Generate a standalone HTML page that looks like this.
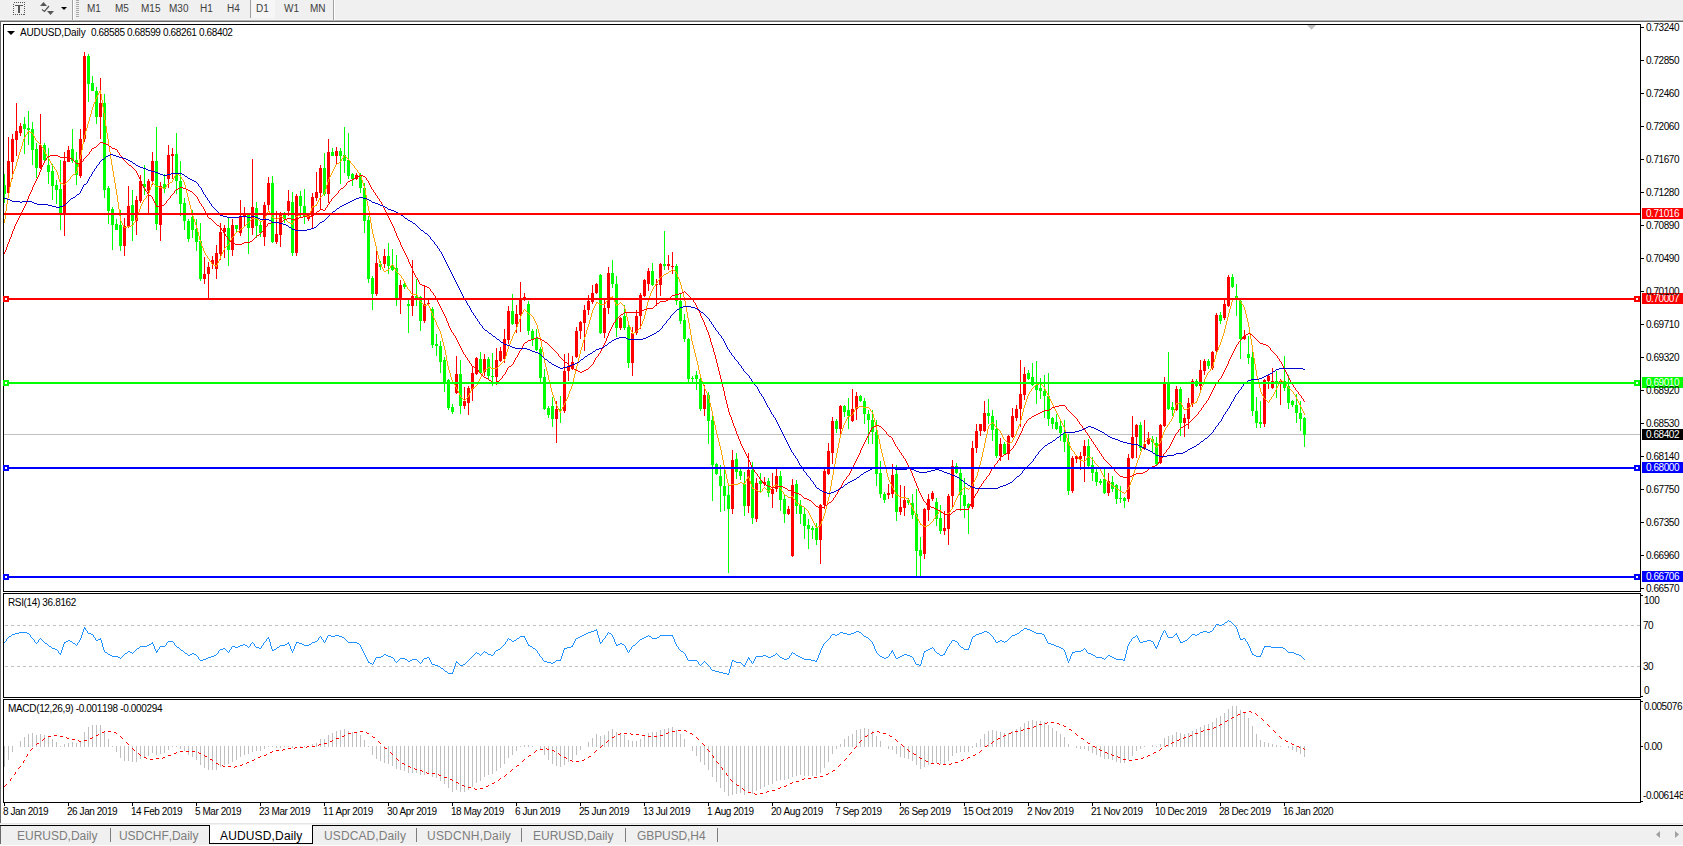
<!DOCTYPE html><html><head><meta charset="utf-8"><title>AUDUSD,Daily</title><style>
html,body{margin:0;padding:0;background:#fff;}
body{width:1683px;height:846px;position:relative;overflow:hidden;font-family:"Liberation Sans", sans-serif;font-size:11px;color:#000;}
.a{position:absolute;}
.t{position:absolute;white-space:nowrap;line-height:11px;height:11px;font-size:10px;font-kerning:none;}
.lb{position:absolute;left:1642px;width:41px;height:11px;color:#fff;}
.lb span{position:absolute;left:4px;top:0;line-height:11px;font-size:10px;letter-spacing:-0.45px;white-space:nowrap;font-kerning:none;}
.tab{position:absolute;top:829px;font-size:12px;line-height:14px;letter-spacing:0.05px;color:#7d7d7d;white-space:nowrap;font-kerning:none;}
.tf{position:absolute;top:3px;font-size:10px;line-height:11px;color:#404040;white-space:nowrap;font-kerning:none;}
svg{position:absolute;left:0;top:0;}
</style></head><body>
<div class="a" style="left:0;top:0;width:1683px;height:20px;background:#f0f0f0"></div>
<div class="a" style="left:0;top:19px;width:1683px;height:1px;background:#f6f6f6"></div>
<div class="a" style="left:0;top:20px;width:1683px;height:1px;background:#b4b4b4"></div>
<div class="a" style="left:0;top:21px;width:1683px;height:1px;background:#696969"></div>
<div class="a" style="left:0;top:21px;width:1px;height:802px;background:#696969"></div>
<svg width="1683" height="846" viewBox="0 0 1683 846" shape-rendering="crispEdges">
<rect x="13.5" y="2.5" width="11" height="12" fill="none" stroke="#555" stroke-width="1" stroke-dasharray="1,1"/>
<rect x="15" y="5" width="8" height="1" fill="#555"/><rect x="18" y="5" width="2" height="8" fill="#555"/>
<g shape-rendering="geometricPrecision" fill="#555"><path d="M40 6 L43.5 2 L47 6 Z"/><path d="M47 11 L50.5 15 L54 11 Z"/><path d="M42 9.5 L44.5 11.5 L49 6" fill="none" stroke="#555" stroke-width="1.2"/></g>
<path d="M61 7 L67 7 L64 10 Z" fill="#000" shape-rendering="geometricPrecision"/>
<rect x="72" y="0" width="1" height="20" fill="#a0a0a0"/><rect x="73" y="0" width="1" height="20" fill="#fff"/>
<rect x="76" y="0" width="3" height="1" fill="#a8a8a8"/>
<rect x="76" y="2" width="3" height="1" fill="#a8a8a8"/>
<rect x="76" y="4" width="3" height="1" fill="#a8a8a8"/>
<rect x="76" y="6" width="3" height="1" fill="#a8a8a8"/>
<rect x="76" y="8" width="3" height="1" fill="#a8a8a8"/>
<rect x="76" y="10" width="3" height="1" fill="#a8a8a8"/>
<rect x="76" y="12" width="3" height="1" fill="#a8a8a8"/>
<rect x="76" y="14" width="3" height="1" fill="#a8a8a8"/>
<rect x="76" y="16" width="3" height="1" fill="#a8a8a8"/>
<rect x="250" y="0" width="1" height="18" fill="#a0a0a0"/><rect x="251" y="0" width="24" height="18" fill="#f6f6f6"/>
<rect x="333" y="0" width="1" height="20" fill="#a0a0a0"/><rect x="334" y="0" width="1" height="20" fill="#fff"/>
<line x1="5" y1="625.5" x2="1640" y2="625.5" stroke="#c0c0c0" stroke-width="1" stroke-dasharray="3,3"/>
<line x1="5" y1="666.5" x2="1640" y2="666.5" stroke="#c0c0c0" stroke-width="1" stroke-dasharray="3,3"/>
<rect x="4" y="434" width="1636" height="1" fill="#c0c0c0"/>
<path fill="#ff0000" d="M8 137h1v56h-1zM7 161h3v32h-3zM12 134h1v45h-1zM11 139h3v23h-3zM16 103h1v53h-1zM15 131h3v9h-3zM20 123h1v13h-1zM19 126h3v7h-3zM40 114h1v55h-1zM39 145h3v23h-3zM64 152h1v84h-1zM63 161h3v53h-3zM68 146h1v16h-1zM67 150h3v12h-3zM80 129h1v49h-1zM79 139h3v37h-3zM84 52h1v90h-1zM83 56h3v83h-3zM100 78h1v61h-1zM99 103h3v14h-3zM124 218h1v38h-1zM123 226h3v20h-3zM128 186h1v42h-1zM127 206h3v20h-3zM136 196h1v39h-1zM135 200h3v21h-3zM140 175h1v28h-1zM139 181h3v20h-3zM148 179h1v34h-1zM147 181h3v10h-3zM152 152h1v33h-1zM151 161h3v20h-3zM160 182h1v59h-1zM159 186h3v39h-3zM168 145h1v43h-1zM167 155h3v24h-3zM172 148h1v31h-1zM171 154h3v2h-3zM204 257h1v27h-1zM203 274h3v5h-3zM208 262h1v36h-1zM207 267h3v7h-3zM212 256h1v13h-1zM211 260h3v4h-3zM216 245h1v34h-1zM215 253h3v16h-3zM220 223h1v37h-1zM219 232h3v22h-3zM224 225h1v33h-1zM223 228h3v4h-3zM232 219h1v37h-1zM231 225h3v25h-3zM240 200h1v36h-1zM239 217h3v16h-3zM244 207h1v19h-1zM243 213h3v4h-3zM252 159h1v76h-1zM251 207h3v21h-3zM264 202h1v44h-1zM263 205h3v32h-3zM268 177h1v33h-1zM267 183h3v22h-3zM276 211h1v33h-1zM275 234h3v8h-3zM280 212h1v35h-1zM279 215h3v20h-3zM288 190h1v26h-1zM287 201h3v10h-3zM296 194h1v62h-1zM295 196h3v57h-3zM308 213h1v8h-1zM307 215h3v4h-3zM312 193h1v35h-1zM311 197h3v19h-3zM316 172h1v29h-1zM315 192h3v6h-3zM320 165h1v44h-1zM319 168h3v25h-3zM328 139h1v64h-1zM327 152h3v42h-3zM336 147h1v17h-1zM335 151h3v5h-3zM356 173h1v7h-1zM355 175h3v4h-3zM376 251h1v45h-1zM375 263h3v31h-3zM384 249h1v19h-1zM383 256h3v8h-3zM400 280h1v34h-1zM399 285h3v14h-3zM412 260h1v56h-1zM411 296h3v10h-3zM424 285h1v38h-1zM423 304h3v17h-3zM428 299h1v7h-1zM427 303h3v1h-3zM456 356h1v38h-1zM455 374h3v19h-3zM464 387h1v22h-1zM463 401h3v5h-3zM468 386h1v29h-1zM467 388h3v15h-3zM472 366h1v35h-1zM471 373h3v16h-3zM476 357h1v18h-1zM475 358h3v16h-3zM484 354h1v22h-1zM483 359h3v13h-3zM496 348h1v37h-1zM495 360h3v17h-3zM500 347h1v15h-1zM499 351h3v10h-3zM504 329h1v34h-1zM503 339h3v20h-3zM508 306h1v38h-1zM507 311h3v29h-3zM516 305h1v28h-1zM515 314h3v10h-3zM520 282h1v50h-1zM519 300h3v15h-3zM524 293h1v8h-1zM523 297h3v3h-3zM556 401h1v42h-1zM555 409h3v10h-3zM564 354h1v59h-1zM563 371h3v40h-3zM568 353h1v28h-1zM567 367h3v4h-3zM572 356h1v14h-1zM571 362h3v7h-3zM576 327h1v31h-1zM575 331h3v26h-3zM580 321h1v18h-1zM579 322h3v9h-3zM584 305h1v46h-1zM583 310h3v13h-3zM588 295h1v20h-1zM587 301h3v9h-3zM592 285h1v19h-1zM591 293h3v9h-3zM596 283h1v11h-1zM595 284h3v9h-3zM604 299h1v39h-1zM603 308h3v25h-3zM608 267h1v47h-1zM607 273h3v35h-3zM620 317h1v13h-1zM619 318h3v10h-3zM632 327h1v49h-1zM631 333h3v30h-3zM636 310h1v25h-1zM635 316h3v17h-3zM640 293h1v36h-1zM639 295h3v21h-3zM644 279h1v18h-1zM643 280h3v16h-3zM648 268h1v23h-1zM647 271h3v13h-3zM656 279h1v27h-1zM655 284h3v1h-3zM660 263h1v33h-1zM659 264h3v21h-3zM668 255h1v15h-1zM667 264h3v2h-3zM672 252h1v22h-1zM671 266h3v1h-3zM704 385h1v31h-1zM703 395h3v14h-3zM732 450h1v64h-1zM731 460h3v49h-3zM748 453h1v60h-1zM747 470h3v36h-3zM756 478h1v44h-1zM755 483h3v36h-3zM764 477h1v9h-1zM763 482h3v2h-3zM772 473h1v35h-1zM771 489h3v5h-3zM776 469h1v23h-1zM775 476h3v13h-3zM788 506h1v9h-1zM787 509h3v5h-3zM792 479h1v78h-1zM791 485h3v71h-3zM820 504h1v60h-1zM819 505h3v35h-3zM824 468h1v41h-1zM823 471h3v34h-3zM828 443h1v32h-1zM827 451h3v23h-3zM832 417h1v47h-1zM831 421h3v32h-3zM840 405h1v29h-1zM839 406h3v23h-3zM852 389h1v33h-1zM851 409h3v12h-3zM856 392h1v28h-1zM855 396h3v13h-3zM888 484h1v15h-1zM887 493h3v2h-3zM892 464h1v34h-1zM891 475h3v19h-3zM900 485h1v30h-1zM899 507h3v5h-3zM904 486h1v30h-1zM903 500h3v8h-3zM924 508h1v51h-1zM923 509h3v45h-3zM928 494h1v27h-1zM927 499h3v11h-3zM932 491h1v10h-1zM931 493h3v6h-3zM944 511h1v24h-1zM943 528h3v3h-3zM948 494h1v51h-1zM947 496h3v33h-3zM952 460h1v48h-1zM951 466h3v30h-3zM972 441h1v68h-1zM971 448h3v59h-3zM976 424h1v29h-1zM975 431h3v17h-3zM980 424h1v12h-1zM979 424h3v7h-3zM984 401h1v31h-1zM983 413h3v18h-3zM1000 438h1v23h-1zM999 444h3v12h-3zM1008 435h1v25h-1zM1007 436h3v18h-3zM1012 408h1v30h-1zM1011 416h3v21h-3zM1016 405h1v16h-1zM1015 409h3v9h-3zM1020 360h1v67h-1zM1019 394h3v15h-3zM1024 367h1v33h-1zM1023 374h3v21h-3zM1072 456h1v37h-1zM1071 458h3v33h-3zM1076 455h1v8h-1zM1075 456h3v3h-3zM1080 452h1v18h-1zM1079 456h3v3h-3zM1084 440h1v42h-1zM1083 446h3v10h-3zM1108 473h1v23h-1zM1107 481h3v12h-3zM1128 454h1v48h-1zM1127 458h3v41h-3zM1132 416h1v43h-1zM1131 437h3v21h-3zM1136 424h1v34h-1zM1135 425h3v12h-3zM1144 420h1v30h-1zM1143 444h3v5h-3zM1148 432h1v13h-1zM1147 438h3v6h-3zM1160 424h1v40h-1zM1159 425h3v38h-3zM1164 377h1v50h-1zM1163 384h3v42h-3zM1176 386h1v25h-1zM1175 389h3v21h-3zM1184 414h1v23h-1zM1183 418h3v5h-3zM1188 398h1v31h-1zM1187 403h3v16h-3zM1192 379h1v28h-1zM1191 381h3v23h-3zM1200 360h1v31h-1zM1199 370h3v16h-3zM1204 359h1v16h-1zM1203 361h3v10h-3zM1212 351h1v19h-1zM1211 352h3v16h-3zM1216 313h1v39h-1zM1215 315h3v36h-3zM1224 299h1v21h-1zM1223 304h3v14h-3zM1228 275h1v32h-1zM1227 277h3v29h-3zM1244 330h1v10h-1zM1243 336h3v3h-3zM1264 379h1v48h-1zM1263 380h3v44h-3zM1268 374h1v15h-1zM1267 376h3v5h-3zM1272 368h1v21h-1zM1271 381h3v7h-3zM1280 379h1v26h-1zM1279 381h3v3h-3z"/>
<path fill="#00ff00" d="M4 174h1v29h-1zM3 185h3v9h-3zM24 117h1v37h-1zM23 124h3v5h-3zM28 111h1v34h-1zM27 128h3v2h-3zM32 122h1v43h-1zM31 129h3v21h-3zM36 143h1v35h-1zM35 149h3v19h-3zM44 143h1v19h-1zM43 145h3v15h-3zM48 148h1v36h-1zM47 165h3v7h-3zM52 164h1v36h-1zM51 171h3v15h-3zM56 180h1v24h-1zM55 185h3v5h-3zM60 160h1v70h-1zM59 189h3v25h-3zM72 129h1v34h-1zM71 149h3v12h-3zM76 152h1v33h-1zM75 160h3v15h-3zM88 54h1v48h-1zM87 56h3v28h-3zM92 76h1v15h-1zM91 83h3v8h-3zM96 87h1v37h-1zM95 91h3v26h-3zM104 94h1v104h-1zM103 103h3v87h-3zM108 186h1v38h-1zM107 188h3v23h-3zM112 207h1v43h-1zM111 209h3v16h-3zM116 219h1v11h-1zM115 224h3v6h-3zM120 210h1v41h-1zM119 225h3v21h-3zM132 190h1v51h-1zM131 205h3v16h-3zM144 165h1v30h-1zM143 184h3v3h-3zM156 127h1v103h-1zM155 161h3v63h-3zM164 174h1v19h-1zM163 184h3v5h-3zM176 133h1v61h-1zM175 154h3v27h-3zM180 161h1v55h-1zM179 181h3v23h-3zM184 198h1v32h-1zM183 203h3v18h-3zM188 219h1v23h-1zM187 221h3v18h-3zM192 210h1v28h-1zM191 217h3v13h-3zM196 219h1v32h-1zM195 229h3v13h-3zM200 223h1v58h-1zM199 241h3v38h-3zM228 217h1v49h-1zM227 228h3v22h-3zM236 225h1v7h-1zM235 225h3v4h-3zM248 213h1v41h-1zM247 214h3v14h-3zM256 202h1v36h-1zM255 208h3v18h-3zM260 221h1v16h-1zM259 225h3v8h-3zM272 176h1v67h-1zM271 183h3v59h-3zM284 212h1v11h-1zM283 215h3v4h-3zM292 192h1v64h-1zM291 202h3v51h-3zM300 191h1v26h-1zM299 196h3v10h-3zM304 189h1v35h-1zM303 206h3v10h-3zM324 153h1v43h-1zM323 168h3v26h-3zM332 148h1v8h-1zM331 152h3v4h-3zM340 148h1v36h-1zM339 151h3v5h-3zM344 127h1v46h-1zM343 155h3v6h-3zM348 133h1v46h-1zM347 160h3v16h-3zM352 173h1v13h-1zM351 174h3v5h-3zM360 173h1v20h-1zM359 175h3v13h-3zM364 183h1v50h-1zM363 188h3v33h-3zM368 216h1v67h-1zM367 220h3v59h-3zM372 276h1v34h-1zM371 278h3v16h-3zM380 261h1v9h-1zM379 264h3v3h-3zM388 243h1v31h-1zM387 256h3v10h-3zM392 249h1v22h-1zM391 266h3v4h-3zM396 255h1v51h-1zM395 268h3v31h-3zM404 282h1v7h-1zM403 284h3v3h-3zM408 300h1v33h-1zM407 304h3v2h-3zM416 279h1v27h-1zM415 296h3v3h-3zM420 296h1v35h-1zM419 297h3v24h-3zM432 307h1v41h-1zM431 309h3v36h-3zM436 334h1v22h-1zM435 344h3v2h-3zM440 341h1v32h-1zM439 346h3v16h-3zM444 357h1v35h-1zM443 360h3v24h-3zM448 379h1v31h-1zM447 380h3v28h-3zM452 404h1v10h-1zM451 407h3v5h-3zM460 360h1v54h-1zM459 374h3v32h-3zM480 352h1v22h-1zM479 359h3v14h-3zM488 357h1v23h-1zM487 359h3v17h-3zM492 353h1v33h-1zM491 376h3v1h-3zM512 294h1v31h-1zM511 311h3v13h-3zM528 301h1v34h-1zM527 304h3v27h-3zM532 329h1v17h-1zM531 331h3v8h-3zM536 329h1v22h-1zM535 338h3v12h-3zM540 347h1v35h-1zM539 349h3v29h-3zM544 369h1v41h-1zM543 377h3v32h-3zM548 406h1v12h-1zM547 408h3v7h-3zM552 397h1v30h-1zM551 406h3v13h-3zM560 396h1v27h-1zM559 409h3v2h-3zM600 274h1v60h-1zM599 275h3v58h-3zM612 260h1v28h-1zM611 273h3v11h-3zM616 276h1v61h-1zM615 284h3v44h-3zM624 305h1v25h-1zM623 316h3v12h-3zM628 321h1v47h-1zM627 327h3v36h-3zM652 263h1v23h-1zM651 271h3v14h-3zM664 231h1v39h-1zM663 264h3v2h-3zM676 264h1v41h-1zM675 266h3v35h-3zM680 294h1v30h-1zM679 301h3v20h-3zM684 314h1v28h-1zM683 320h3v19h-3zM688 338h1v44h-1zM687 339h3v40h-3zM692 376h1v6h-1zM691 378h3v1h-3zM696 371h1v19h-1zM695 375h3v4h-3zM700 378h1v33h-1zM699 379h3v30h-3zM708 392h1v52h-1zM707 395h3v26h-3zM712 416h1v85h-1zM711 420h3v45h-3zM716 463h1v12h-1zM715 464h3v10h-3zM720 465h1v47h-1zM719 476h3v10h-3zM724 469h1v42h-1zM723 486h3v10h-3zM728 486h1v87h-1zM727 495h3v14h-3zM736 453h1v26h-1zM735 459h3v13h-3zM740 469h1v11h-1zM739 471h3v5h-3zM744 472h1v44h-1zM743 484h3v22h-3zM752 462h1v62h-1zM751 470h3v48h-3zM760 473h1v20h-1zM759 481h3v3h-3zM768 478h1v19h-1zM767 481h3v12h-3zM780 471h1v40h-1zM779 476h3v24h-3zM784 495h1v28h-1zM783 499h3v15h-3zM796 480h1v34h-1zM795 484h3v22h-3zM800 500h1v24h-1zM799 505h3v9h-3zM804 507h1v32h-1zM803 514h3v12h-3zM808 519h1v30h-1zM807 525h3v4h-3zM812 526h1v13h-1zM811 528h3v2h-3zM816 523h1v22h-1zM815 528h3v12h-3zM836 419h1v14h-1zM835 421h3v8h-3zM844 405h1v12h-1zM843 406h3v6h-3zM848 398h1v31h-1zM847 410h3v6h-3zM860 395h1v7h-1zM859 396h3v5h-3zM864 398h1v26h-1zM863 401h3v13h-3zM868 410h1v34h-1zM867 414h3v6h-3zM872 410h1v34h-1zM871 420h3v12h-3zM876 420h1v66h-1zM875 432h3v42h-3zM880 461h1v37h-1zM879 473h3v21h-3zM884 492h1v11h-1zM883 494h3v6h-3zM896 465h1v56h-1zM895 474h3v38h-3zM908 498h1v7h-1zM907 500h3v3h-3zM912 494h1v25h-1zM911 503h3v12h-3zM916 489h1v87h-1zM915 514h3v37h-3zM920 537h1v39h-1zM919 550h3v6h-3zM936 498h1v28h-1zM935 502h3v17h-3zM940 505h1v29h-1zM939 518h3v13h-3zM956 463h1v11h-1zM955 466h3v7h-3zM960 469h1v42h-1zM959 473h3v22h-3zM964 478h1v40h-1zM963 495h3v11h-3zM968 503h1v31h-1zM967 504h3v4h-3zM988 399h1v25h-1zM987 413h3v3h-3zM992 410h1v31h-1zM991 416h3v14h-3zM996 420h1v38h-1zM995 429h3v27h-3zM1004 442h1v13h-1zM1003 444h3v10h-3zM1028 370h1v10h-1zM1027 373h3v6h-3zM1032 363h1v23h-1zM1031 377h3v8h-3zM1036 361h1v43h-1zM1035 385h3v5h-3zM1040 378h1v21h-1zM1039 388h3v3h-3zM1044 375h1v43h-1zM1043 391h3v5h-3zM1048 373h1v53h-1zM1047 396h3v23h-3zM1052 417h1v12h-1zM1051 418h3v6h-3zM1056 414h1v16h-1zM1055 422h3v7h-3zM1060 421h1v20h-1zM1059 426h3v7h-3zM1064 420h1v32h-1zM1063 433h3v9h-3zM1068 434h1v61h-1zM1067 442h3v49h-3zM1088 439h1v28h-1zM1087 446h3v20h-3zM1092 457h1v24h-1zM1091 465h3v8h-3zM1096 467h1v19h-1zM1095 472h3v10h-3zM1100 479h1v6h-1zM1099 481h3v2h-3zM1104 469h1v25h-1zM1103 479h3v14h-3zM1112 476h1v16h-1zM1111 482h3v7h-3zM1116 484h1v20h-1zM1115 485h3v14h-3zM1120 486h1v17h-1zM1119 498h3v1h-3zM1124 497h1v11h-1zM1123 498h3v3h-3zM1140 422h1v29h-1zM1139 425h3v23h-3zM1152 436h1v16h-1zM1151 439h3v3h-3zM1156 437h1v28h-1zM1155 443h3v21h-3zM1168 352h1v58h-1zM1167 384h3v25h-3zM1172 402h1v14h-1zM1171 407h3v3h-3zM1180 387h1v49h-1zM1179 389h3v34h-3zM1196 379h1v8h-1zM1195 381h3v5h-3zM1208 359h1v10h-1zM1207 361h3v5h-3zM1220 312h1v12h-1zM1219 315h3v6h-3zM1232 274h1v14h-1zM1231 277h3v10h-3zM1236 284h1v32h-1zM1235 296h3v3h-3zM1240 300h1v59h-1zM1239 301h3v38h-3zM1248 336h1v28h-1zM1247 354h3v4h-3zM1252 352h1v64h-1zM1251 357h3v54h-3zM1256 397h1v31h-1zM1255 411h3v12h-3zM1260 401h1v27h-1zM1259 422h3v2h-3zM1276 371h1v27h-1zM1275 381h3v3h-3zM1284 356h1v35h-1zM1283 381h3v7h-3zM1288 375h1v34h-1zM1287 386h3v17h-3zM1292 400h1v7h-1zM1291 401h3v4h-3zM1296 394h1v29h-1zM1295 405h3v8h-3zM1300 401h1v30h-1zM1299 413h3v6h-3zM1304 417h1v30h-1zM1303 418h3v17h-3z"/>
<path d="M28 131h2M30 132h2M32 133h1M26 134h1M36 140h1M37 141h1M38 142h1M39 143h1M40 144h1M42 147h1M344 155h1M345 156h1M346 157h1M48 158h1M342 158h1M347 158h1M348 159h1M349 160h1M340 161h1M339 162h1M337 163h2M351 163h1M336 164h1M352 164h1M52 165h1M353 165h1M53 166h1M355 168h1M55 169h1M356 169h1M358 172h1M75 173h1M176 173h1M73 174h2M177 174h2M72 175h1M179 175h1M71 176h1M180 176h1M69 179h1M182 179h1M68 180h1M67 181h1M66 182h1M170 182h2M61 183h2M65 183h1M153 183h1M168 183h2M63 184h2M154 184h1M167 184h1M155 185h1M156 186h3M159 187h4M165 187h1M163 188h2M323 194h1M147 195h1M322 195h1M321 196h1M320 197h1M145 198h1M144 199h1M315 205h1M312 206h3M312 207h1M300 214h5M298 215h2M305 215h2M280 216h2M296 216h2M307 216h2M272 217h2M279 217h1M282 217h2M308 217h1M252 218h5M274 218h2M277 218h2M284 218h1M251 219h1M257 219h2M276 219h1M285 219h1M250 220h1M259 220h1M262 220h2M286 220h1M249 221h1M260 221h2M287 221h1M134 222h1M248 222h1M288 222h2M247 223h1M290 223h3M246 224h1M292 224h1M131 225h2M245 225h1M127 226h4M244 226h1M124 227h3M243 227h1M241 228h2M240 229h1M239 230h1M237 231h2M236 232h1M235 233h1M233 236h1M232 237h1M228 244h1M227 245h1M226 246h1M225 247h1M206 255h1M208 258h1M210 261h1M212 264h2M392 264h1M214 265h3M391 265h1M216 266h1M389 268h1M388 269h1M672 269h1M386 270h2M671 270h1M673 270h2M384 271h2M396 271h1M669 271h2M675 271h1M397 272h1M668 272h1M398 273h1M666 273h2M399 274h1M664 274h2M400 275h1M663 275h1M661 276h2M660 277h1M402 278h1M658 280h1M656 283h1M654 286h1M408 289h1M409 290h1M411 293h1M412 294h5M610 297h2M1236 297h1M608 298h2M1235 298h1M1237 298h1M1233 299h2M1238 299h1M1239 300h1M420 301h1M606 301h1M1240 301h1M421 302h1M596 302h2M620 302h1M422 303h1M596 303h1M598 303h2M619 303h1M621 303h1M423 304h1M427 304h2M600 304h5M616 304h3M622 304h1M1242 304h1M424 305h3M428 305h1M616 305h1M623 305h1M524 309h1M525 310h1M526 311h1M527 312h1M528 313h1M529 314h2M531 315h1M532 316h1M639 328h1M638 329h1M637 330h1M636 331h1M634 332h2M633 333h1M503 361h1M502 362h1M501 363h1M500 364h1M499 365h1M498 366h1M488 367h3M497 367h1M487 368h1M491 368h6M1211 368h1M485 369h2M484 370h1M1209 371h1M1208 372h1M1280 380h2M1280 381h1M1282 381h2M1284 382h1M1039 383h2M1285 383h1M454 384h1M1036 384h3M1041 384h1M476 385h1M1035 385h1M1042 385h1M475 386h1M1034 386h1M1043 386h1M1287 386h1M473 387h2M1033 387h1M1288 387h1M472 388h1M1032 388h1M1289 388h1M1290 389h1M1291 390h1M1030 391h1M1292 391h1M1294 394h1M1272 396h1M461 397h1M467 397h1M462 398h1M466 398h1M1264 398h1M463 399h1M465 399h1M1265 399h1M1270 399h1M464 400h1M1266 400h1M1267 401h1M1179 402h2M1195 402h1M1268 402h1M1176 403h3M1192 403h3M1176 404h1M1191 404h1M859 406h4M856 407h3M863 407h6M1189 407h1M869 408h1M1187 408h2M1184 409h3M871 411h1M852 414h1M850 415h2M848 416h2M1170 421h1M992 422h1M991 423h1M993 423h1M990 424h1M1168 424h1M989 425h1M995 426h1M996 427h1M1166 427h1M997 428h1M998 429h1M999 430h1M1148 438h3M1004 439h1M1147 439h1M1151 439h2M1005 440h1M1146 440h1M1152 440h1M1006 441h1M1145 441h1M1007 442h1M1010 442h2M1008 443h2M1159 443h1M1157 446h1M1156 447h1M1072 450h1M1073 451h1M1075 454h1M1076 455h1M1077 456h1M1088 456h1M1087 457h1M1089 457h2M1091 458h1M1079 459h1M1092 459h1M1080 460h3M1085 460h1M1093 460h1M1083 461h2M1095 463h1M1096 464h1M1097 465h1M1099 468h1M1105 479h1M1106 480h1M1107 481h1M740 482h2M1108 482h1M738 483h2M742 483h3M1109 483h2M731 484h7M744 484h1M776 484h1M1111 484h1M729 485h2M774 485h2M777 485h1M1112 485h1M772 486h2M778 486h1M971 486h1M1113 486h2M764 487h1M771 487h1M779 487h1M964 487h2M970 487h1M1115 487h1M753 488h1M763 488h1M765 488h1M780 488h1M963 488h1M966 488h2M969 488h1M1116 488h1M754 489h2M766 489h1M962 489h1M968 489h1M1117 489h2M1127 489h1M756 490h2M767 490h1M769 490h1M961 490h1M1119 490h1M758 491h2M761 491h1M768 491h1M782 491h1M960 491h1M1120 491h2M760 492h1M1122 492h2M1125 492h1M1124 493h1M784 494h1M896 494h1M785 495h2M897 495h2M787 496h1M791 496h2M899 496h1M788 497h3M900 497h6M906 498h2M794 499h1M796 502h1M797 503h2M799 504h1M800 505h2M802 506h2M804 507h1M805 508h1M806 509h1M951 509h1M807 510h1M940 510h1M939 511h1M941 511h1M942 512h1M949 512h1M943 513h1M947 513h2M937 514h1M944 514h3M936 515h1M934 518h1M932 521h1M931 522h1M930 523h1M921 524h1M929 524h1M922 525h2M927 525h2M818 526h2M924 526h3M816 527h2" stroke="#ffa500" stroke-width="1" fill="none" transform="translate(0,0.5)"/>
<path d="M100 90v4M99 91v2M98 93v2M101 94v6M97 95v2M96 97v2M95 99v3M102 100v7M94 102v2M93 104v3M92 107v3M103 107v6M91 110v4M104 113v7M90 114v3M89 117v4M105 120v6M88 121v3M87 124v4M106 126v7M86 128v3M85 131v4M27 132v2M107 133v6M33 134v2M25 135v2M84 135v4M34 136v2M24 137v2M35 138v2M23 139v3M83 139v5M108 139v7M22 142v4M82 144v6M41 145v2M21 146v3M109 146v6M43 148v2M20 149v3M44 150v2M81 150v5M19 152v3M45 152v2M110 152v7M46 154v2M18 155v4M80 155v4M47 156v2M343 156v2M17 159v3M49 159v2M79 159v4M111 159v6M341 159v2M50 161v2M350 161v2M16 162v4M51 163v2M78 163v4M112 165v6M335 165v2M15 166v3M354 166v2M54 167v2M77 167v4M334 167v2M14 169v2M333 169v2M56 170v2M357 170v2M13 171v3M76 171v2M113 171v6M332 171v2M57 172v3M331 173v2M359 173v2M12 174v4M175 174v2M58 175v4M330 175v2M360 175v2M174 176v2M70 177v2M114 177v6M181 177v2M329 177v2M361 177v3M11 178v4M173 178v2M59 179v3M328 179v3M172 180v2M183 180v2M362 180v3M10 182v5M60 182v2M152 182v2M184 182v3M327 182v3M115 183v6M363 183v3M151 184v3M166 185v2M185 185v4M326 185v4M364 186v4M9 187v6M150 187v3M116 189v6M186 189v4M325 189v3M149 190v3M365 190v5M324 192v2M8 193v5M148 193v2M187 193v4M117 195v7M366 195v6M146 196v2M188 197v4M7 198v6M319 198v2M143 200v2M318 200v2M189 201v4M367 201v5M118 202v7M142 202v2M317 202v2M6 204v7M141 204v2M316 204v2M190 205v4M140 206v3M368 206v5M311 208v3M119 209v7M139 209v3M191 209v4M268 210v2M5 211v8M269 211v2M310 211v2M369 211v6M138 212v3M267 212v2M192 213v3M270 213v2M309 213v3M266 214v2M137 215v3M271 215v2M120 216v5M193 216v3M265 216v2M295 217v2M370 217v6M136 218v2M264 218v2M4 219v4M194 219v3M294 219v2M135 220v2M121 221v2M293 221v2M195 222v3M122 223v2M133 223v2M371 223v6M123 225v2M196 225v3M197 228v4M372 229v5M198 232v4M234 234v2M373 234v4M199 236v4M231 238v2M374 238v4M200 240v3M230 240v2M229 242v2M375 242v4M201 243v3M202 246v2M376 246v5M203 248v3M224 248v2M223 250v2M204 251v2M377 251v4M222 252v2M205 253v2M221 254v2M378 255v4M207 256v2M220 256v3M209 259v2M219 259v2M379 259v4M218 261v2M211 262v2M217 263v2M380 263v2M381 265v2M393 265v2M390 266v2M382 267v2M394 267v2M383 269v2M395 269v2M676 272v2M677 274v3M401 276v2M678 277v2M659 278v2M403 279v2M679 279v3M404 281v2M657 281v2M680 282v3M405 283v2M655 284v2M406 285v2M681 285v4M407 287v2M653 287v2M652 289v2M682 289v4M410 291v2M651 291v2M650 293v3M683 293v4M417 295v2M612 296v2M649 296v2M418 297v2M684 297v4M613 298v2M648 298v4M419 299v2M607 299v2M614 300v2M1232 300v2M685 301v6M605 302v2M615 302v2M647 302v4M1231 302v4M1241 302v2M595 304v2M1243 305v2M429 306v2M594 306v2M624 306v3M646 306v5M1230 306v3M686 307v5M1244 307v3M430 308v3M593 308v2M625 309v4M1229 309v4M523 310v2M592 310v3M1245 310v4M431 311v2M645 311v4M522 312v2M687 312v6M432 313v3M591 313v4M626 313v4M1228 313v4M521 314v2M1246 314v4M644 315v4M433 316v2M520 316v3M533 317v2M590 317v3M627 317v4M1227 317v4M434 318v2M688 318v5M1247 318v4M519 319v3M534 319v2M643 319v2M435 320v2M589 320v4M535 321v2M628 321v4M642 321v3M1226 321v4M436 322v3M518 322v2M1248 322v5M536 323v2M689 323v6M517 324v3M588 324v3M641 324v2M437 325v2M537 325v4M629 325v2M1225 325v4M640 326v2M438 327v2M516 327v3M587 327v3M630 327v3M1249 327v6M439 329v2M538 329v4M690 329v6M1224 329v4M515 330v2M586 330v4M631 330v2M440 331v3M514 332v2M632 332v2M539 333v4M1223 333v3M1250 333v6M441 334v4M513 334v2M585 334v3M691 335v6M512 336v3M1222 336v3M540 337v4M584 337v3M442 338v4M511 339v2M1221 339v3M1251 339v6M583 340v3M510 341v3M541 341v6M692 341v4M443 342v4M1220 342v3M582 343v4M509 344v2M693 345v4M1219 345v2M1252 345v7M444 346v4M508 346v3M542 347v5M581 347v3M1218 347v3M507 349v3M694 349v4M445 350v5M580 350v4M1217 350v2M506 352v4M543 352v6M1216 352v3M1253 352v6M695 353v4M579 354v4M446 355v6M1215 355v4M505 356v3M696 357v4M544 358v5M578 358v4M1254 358v6M504 359v2M1214 359v3M447 361v5M697 361v4M577 362v4M1213 362v4M545 363v4M1255 364v6M698 365v5M448 366v4M576 366v4M1212 366v2M546 367v4M1210 369v2M449 370v3M575 370v4M699 370v4M1256 370v6M483 371v2M547 371v4M450 373v4M482 373v2M1207 373v2M574 374v4M700 374v4M481 375v2M548 375v5M1206 375v2M1257 376v4M451 377v3M480 377v2M1205 377v2M573 378v4M701 378v3M479 379v2M1204 379v3M452 380v2M549 380v4M1258 380v4M478 381v2M702 381v2M453 382v2M572 382v4M1203 382v3M1279 382v2M477 383v2M703 383v3M550 384v4M1259 384v4M1278 384v2M1286 384v2M455 385v2M1202 385v2M571 386v3M704 386v3M1277 386v2M456 387v2M1044 387v2M1201 387v3M551 388v4M1260 388v4M1276 388v2M457 389v2M471 389v2M570 389v2M705 389v2M1031 389v2M1045 389v2M1200 390v3M1275 390v2M458 391v2M470 391v2M569 391v3M706 391v2M1046 391v2M552 392v3M1029 392v2M1261 392v2M1274 392v2M1293 392v2M459 393v2M469 393v2M707 393v2M1047 393v2M1199 393v3M568 394v3M1028 394v2M1262 394v2M1273 394v2M460 395v2M468 395v2M553 395v3M708 395v4M1048 395v2M1295 395v2M1027 396v3M1198 396v2M1263 396v2M567 397v2M1049 397v2M1271 397v2M1296 397v2M554 398v3M1197 398v3M566 399v2M709 399v4M1026 399v3M1050 399v2M1297 399v2M1269 400v2M555 401v3M565 401v2M1051 401v2M1196 401v2M1298 401v2M1025 402v3M564 403v2M710 403v4M1052 403v2M1181 403v2M1299 403v2M556 404v2M563 405v2M1024 405v3M1053 405v2M1175 405v4M1182 405v2M1190 405v2M1300 405v2M557 406v2M562 407v2M711 407v4M1054 407v2M1183 407v2M1301 407v2M558 408v2M855 408v2M1023 408v4M561 409v2M870 409v2M1055 409v2M1174 409v4M1302 409v2M559 410v2M854 410v2M560 411v2M712 411v5M1056 411v2M1303 411v2M853 412v2M872 412v2M1022 412v4M1057 413v2M1173 413v4M1304 413v2M873 414v4M1058 415v2M713 416v5M1021 416v4M847 417v2M1059 417v2M1172 417v2M874 418v4M846 419v2M1060 419v2M1171 419v2M1020 420v4M714 421v4M845 421v2M1061 421v2M875 422v4M1169 422v2M844 423v2M1062 423v2M994 424v2M1019 424v2M715 425v5M843 425v3M1063 425v2M1167 425v2M876 426v4M988 426v3M1018 426v3M1064 427v3M842 428v3M1165 428v2M987 429v5M1017 429v2M716 430v4M877 430v5M1065 430v4M1164 430v2M841 431v3M1000 431v2M1016 431v3M1163 432v3M1001 433v2M717 434v4M840 434v4M986 434v4M1015 434v2M1066 434v4M878 435v4M1002 435v2M1162 435v3M1014 436v2M1003 437v2M718 438v4M839 438v5M985 438v5M1013 438v2M1067 438v4M1161 438v3M879 439v5M1012 440v2M1153 441v2M1160 441v2M719 442v4M1068 442v2M1144 442v2M838 443v5M984 443v5M1154 443v2M880 444v5M1069 444v2M1143 444v3M1158 444v2M1155 445v2M720 446v4M1070 446v2M1142 447v2M837 448v5M983 448v4M1071 448v2M881 449v4M1141 449v3M721 450v5M982 452v5M1074 452v2M1140 452v3M836 453v5M882 453v4M722 455v5M1139 455v3M883 457v4M981 457v4M1078 457v2M835 458v6M1086 458v2M1138 458v2M723 460v5M1137 460v3M884 461v4M980 461v4M1094 461v2M1136 463v3M834 464v5M724 465v5M885 465v4M979 465v4M1098 466v2M1135 466v4M833 469v6M886 469v4M978 469v3M1100 469v2M725 470v4M1134 470v3M1101 471v2M977 472v4M887 473v4M1102 473v2M1133 473v4M726 474v5M832 475v5M1103 475v2M748 476v2M976 476v2M747 477v2M888 477v3M1104 477v2M1132 477v3M749 478v3M975 478v2M727 479v4M746 479v2M831 480v6M889 480v2M974 480v2M1131 480v2M745 481v2M750 481v3M890 482v2M973 482v2M1130 482v3M728 483v3M751 484v3M891 484v2M972 484v2M1129 485v2M830 486v5M892 486v2M752 487v2M1128 487v2M770 488v2M893 488v2M762 489v2M781 489v2M894 490v2M1126 490v2M829 491v6M783 492v2M895 492v2M959 492v2M958 494v2M957 496v2M793 497v2M828 497v4M956 498v2M908 499v2M795 500v2M955 500v2M827 501v4M909 501v2M954 502v3M910 503v2M826 505v4M911 505v2M953 505v2M912 507v2M952 507v2M825 509v4M913 509v2M950 510v2M808 511v2M914 511v2M938 512v2M809 513v2M824 513v3M915 513v2M810 515v2M916 515v2M823 516v3M935 516v2M811 517v2M917 517v2M812 519v2M822 519v2M918 519v2M933 519v2M813 521v2M821 521v3M919 521v2M814 523v2M920 523v2M820 524v2M815 525v2" stroke="#ffa500" stroke-width="1" fill="none" transform="translate(0.5,0)"/>
<path d="M100 142h3M99 143h1M103 143h3M98 144h1M106 144h2M97 145h1M108 145h1M96 146h1M109 146h2M94 147h2M111 147h1M92 148h2M112 148h3M115 149h2M90 151h1M118 152h1M88 154h1M50 155h8M87 155h1M120 155h1M48 156h2M58 156h2M86 156h1M121 156h1M47 157h1M60 157h10M85 157h1M70 158h2M84 158h1M72 159h1M123 159h1M45 160h1M73 160h1M124 160h1M74 161h1M82 161h1M125 161h1M75 162h1M126 162h1M76 163h3M127 163h1M79 164h2M128 164h1M129 165h2M131 166h1M132 167h1M133 168h1M134 169h1M135 170h1M360 175h3M358 176h2M363 176h2M356 177h2M365 177h1M354 178h2M352 179h2M350 180h2M367 180h1M348 181h2M347 182h1M345 185h1M344 186h1M180 187h3M343 187h1M144 188h1M178 188h2M183 188h3M341 188h2M176 189h2M186 189h2M340 189h1M372 189h1M175 190h1M188 190h2M339 190h1M146 191h1M190 191h2M192 192h1M374 192h1M173 193h1M193 193h1M337 193h1M148 194h1M172 194h1M194 194h1M336 194h1M149 195h2M171 195h1M195 195h1M335 195h1M376 195h1M151 196h1M196 196h1M334 196h1M333 197h1M169 198h1M332 198h1M378 198h1M168 199h1M167 200h1M330 201h1M380 201h1M165 203h1M200 203h1M164 204h1M328 204h1M162 205h2M157 206h5M202 206h1M326 207h1M320 209h3M319 210h1M323 210h2M317 211h2M316 212h1M315 213h1M313 214h2M312 215h1M303 216h4M310 216h2M208 217h1M299 217h4M307 217h3M209 218h2M287 218h4M295 218h4M211 219h1M284 219h3M291 219h4M212 220h1M283 220h1M213 221h1M281 221h2M214 222h1M271 222h10M215 223h1M268 223h3M216 224h1M217 225h2M219 226h1M266 226h1M220 227h1M264 229h1M222 230h1M263 230h1M262 231h1M261 232h1M224 233h1M260 233h1M259 234h1M257 235h2M226 236h1M256 236h1M255 237h1M254 238h1M228 239h1M253 239h1M229 240h1M252 240h1M230 241h1M250 241h2M231 242h1M244 242h6M232 243h3M242 243h2M235 244h7M416 277h1M420 284h2M422 285h2M424 286h3M427 287h2M429 288h1M431 291h1M684 291h1M432 292h1M682 292h2M685 292h1M679 293h3M686 293h1M675 294h4M687 294h1M434 295h1M672 295h3M688 295h1M671 296h1M689 296h1M670 297h1M690 297h1M669 298h1M691 298h1M668 299h1M692 299h1M666 300h2M660 301h6M659 302h1M694 302h1M657 303h2M656 304h1M655 305h1M654 306h1M653 307h1M647 308h6M644 309h3M642 310h2M639 311h3M624 312h15M623 313h1M621 314h2M620 315h1M619 316h1M618 317h1M617 318h1M616 319h1M614 322h1M452 332h1M1248 333h2M1246 334h2M1250 334h2M454 335h1M1244 335h2M1252 335h1M1243 336h1M1253 336h1M536 337h2M1254 337h1M534 338h2M538 338h2M1255 338h1M531 339h3M540 339h2M1241 339h1M1256 339h1M528 340h3M542 340h2M1240 340h1M1257 340h1M527 341h1M544 341h1M1239 341h1M1258 341h1M525 342h2M545 342h2M1259 342h1M524 343h1M547 343h1M1260 343h3M548 344h1M1237 344h1M1263 344h3M549 345h1M1266 345h2M550 346h1M1268 346h1M551 347h1M1269 347h1M552 348h1M553 349h1M520 350h1M554 350h1M1271 350h1M555 351h1M1272 351h1M556 352h1M1273 352h1M557 353h1M599 353h1M1274 353h1M464 354h1M1275 354h1M1276 355h1M559 356h1M597 356h1M466 357h1M516 357h1M560 357h1M596 357h1M561 358h1M1278 358h1M562 359h1M468 360h1M563 360h1M564 361h1M1280 361h1M565 362h2M470 363h1M567 363h1M512 364h1M568 364h1M592 364h1M511 365h1M569 365h1M591 365h1M472 366h2M509 366h2M570 366h1M590 366h1M474 367h2M508 367h1M571 367h1M589 367h1M476 368h1M572 368h2M588 368h1M477 369h1M574 369h2M586 369h2M576 370h2M584 370h2M578 371h2M582 371h2M479 372h1M580 372h2M480 373h1M481 374h1M504 374h1M482 375h1M503 375h1M483 376h1M484 377h2M486 378h2M501 378h1M1220 378h1M488 379h1M500 379h1M1219 379h1M489 380h2M499 380h1M491 381h1M497 381h2M492 382h5M1217 382h1M1216 383h1M1292 384h1M1294 387h1M1296 390h1M1297 391h1M1299 394h1M1300 395h1M1302 398h1M1207 400h1M1304 401h1M1205 403h1M1204 404h1M1059 405h6M1055 406h4M1065 406h1M1052 407h3M1202 407h1M1051 408h1M1049 409h2M1067 409h1M1044 410h5M1068 410h1M1200 410h1M1042 411h2M1069 411h1M1199 411h1M1040 412h2M1070 412h1M1038 413h2M1071 413h1M1036 414h2M1072 414h1M1197 414h1M1034 415h2M1073 415h1M1196 415h1M1032 416h2M1074 416h1M1195 416h1M1031 417h1M1075 417h1M1194 417h1M1029 418h2M1076 418h1M1193 418h1M1028 419h1M1192 419h1M1027 420h1M1191 420h1M1078 421h1M1190 421h1M1189 422h1M1025 423h1M1188 423h1M1080 424h1M1186 424h2M876 425h3M1081 425h1M1184 425h2M874 426h2M879 426h2M1183 426h1M872 427h2M881 427h1M1181 427h2M882 428h1M1083 428h1M1180 428h1M883 429h1M1084 429h1M1179 429h1M884 430h1M885 431h1M1086 432h1M1177 432h1M1176 433h1M887 434h1M888 435h1M1088 435h1M889 436h2M891 437h1M1090 438h1M1092 441h1M1094 444h1M1014 445h1M896 446h1M1096 447h1M1012 448h1M1168 448h1M898 449h1M1011 449h1M1167 449h1M1010 450h1M1098 450h1M1009 451h1M900 452h1M1008 452h1M1165 452h1M1006 453h2M1100 453h1M1164 453h1M1004 454h2M902 455h1M1003 455h1M1001 456h2M1102 456h1M1000 457h1M904 458h1M1104 459h1M998 460h1M1105 460h1M1160 460h1M1106 461h1M1159 461h1M1107 462h1M996 463h1M1108 463h1M995 464h1M1109 464h1M1157 464h1M1110 465h1M1155 465h2M1111 466h1M1152 466h3M993 467h1M1112 467h1M1151 467h1M992 468h1M1113 468h1M1149 468h2M753 469h1M1148 469h1M1147 470h1M1115 471h1M1145 471h2M755 472h1M1116 472h1M1143 472h2M756 473h1M1117 473h1M1136 473h7M1118 474h1M1134 474h2M848 475h1M988 475h1M1119 475h1M1132 475h2M758 476h1M847 476h1M987 476h1M1120 476h3M1130 476h2M1123 477h7M760 479h1M845 479h1M985 479h1M761 480h1M844 480h1M984 480h1M763 483h1M982 483h1M764 484h2M766 485h2M768 486h3M775 486h8M980 486h1M771 487h4M783 487h2M840 487h1M785 488h2M787 489h1M788 490h3M791 491h3M794 492h2M796 493h3M976 493h1M799 494h2M836 494h1M801 495h1M802 496h1M803 497h1M834 497h1M804 498h3M807 499h2M809 500h2M832 500h1M811 501h1M831 501h1M924 501h1M812 502h1M829 502h2M925 502h1M813 503h1M828 503h1M814 504h1M827 504h1M815 505h1M825 505h2M927 505h1M816 506h2M824 506h1M928 506h3M818 507h2M822 507h2M931 507h3M820 508h2M934 508h2M936 509h2M956 509h12M938 510h2M955 510h1M940 511h1M953 511h2M941 512h2M952 512h1M943 513h1M951 513h1M944 514h3M949 514h2M947 515h2" stroke="#ff0000" stroke-width="1" fill="none" transform="translate(0,0.5)"/>
<path d="M91 149v2M117 150v2M89 152v2M119 153v2M122 157v2M46 158v2M83 159v2M44 161v2M81 162v2M43 163v2M42 165v2M41 167v3M40 170v2M136 171v2M39 172v3M137 173v2M38 175v2M138 175v2M37 177v2M139 177v2M366 178v2M36 179v2M140 179v3M35 181v2M368 181v2M141 182v2M34 183v2M346 183v2M369 183v2M142 184v2M33 185v2M370 185v2M143 186v2M32 187v3M371 187v2M145 189v2M31 190v2M373 190v2M174 191v2M338 191v2M30 192v2M147 192v2M375 193v2M29 194v2M28 196v3M170 196v2M377 196v2M152 197v2M197 197v2M27 199v2M153 199v2M198 199v2M331 199v2M379 199v2M26 201v3M154 201v2M166 201v2M199 201v2M329 202v2M381 202v2M155 203v2M25 204v2M201 204v2M382 204v2M156 205v2M327 205v2M24 206v2M383 206v2M203 207v2M23 208v2M325 208v2M384 208v2M204 209v2M22 210v2M385 210v2M205 211v2M21 212v2M386 212v2M206 213v2M20 214v2M387 214v2M207 215v2M19 216v2M388 216v2M18 218v2M389 218v2M17 220v2M390 220v2M16 222v2M391 222v2M15 224v2M267 224v2M392 224v2M14 226v3M393 226v2M265 227v2M221 228v2M394 228v3M13 229v2M12 231v3M223 231v2M395 231v2M396 233v3M11 234v3M225 234v2M397 236v2M10 237v2M227 237v2M398 238v2M9 239v3M399 240v2M8 242v2M400 242v3M7 244v3M401 245v2M6 247v3M402 247v2M403 249v2M5 250v2M404 251v2M4 252v2M405 253v2M406 255v2M407 257v2M408 259v3M409 262v2M410 264v2M411 266v2M412 268v3M413 271v2M414 273v2M415 275v2M417 278v2M418 280v2M419 282v2M430 289v2M433 293v2M435 296v2M436 298v2M437 300v2M693 300v2M438 302v2M695 303v2M439 304v2M696 305v2M440 306v2M697 307v2M441 308v2M698 309v2M442 310v2M699 311v2M443 312v2M700 313v3M444 314v2M445 316v2M701 316v2M446 318v3M702 318v2M615 320v2M703 320v2M447 321v2M704 322v3M448 323v3M613 323v2M612 325v2M705 325v2M449 326v2M611 327v2M706 327v3M450 328v2M610 329v2M451 330v2M707 330v2M609 331v2M708 332v3M453 333v2M608 333v3M709 335v3M455 336v2M607 336v2M1242 337v2M456 338v2M606 338v3M710 338v4M457 340v2M605 341v2M458 342v2M711 342v3M1238 342v2M604 343v2M459 344v2M523 344v2M603 345v2M712 345v3M1236 345v2M460 346v2M522 346v2M602 347v2M1235 347v2M461 348v2M521 348v2M713 348v4M1270 348v2M601 349v2M1234 349v2M462 350v2M519 351v2M600 351v2M1233 351v2M463 352v2M714 352v3M518 353v2M1232 353v2M558 354v2M598 354v2M465 355v2M517 355v2M715 355v4M1231 355v2M1277 356v2M1230 357v2M467 358v2M515 358v2M595 358v2M716 359v4M1229 359v2M1279 359v2M514 360v2M594 360v2M469 361v2M1228 361v3M513 362v2M593 362v2M1281 362v2M717 363v4M471 364v2M1227 364v2M1282 364v2M1226 366v2M1283 366v2M718 367v4M507 368v2M1225 368v2M1284 368v2M478 370v2M506 370v2M1224 370v2M1285 370v2M719 371v4M505 372v2M1223 372v2M1286 372v2M1222 374v2M1287 374v2M720 375v4M502 376v2M1221 376v2M1288 376v2M1289 378v2M721 379v4M1218 380v2M1290 380v2M1291 382v2M722 383v4M1215 384v2M1293 385v2M1214 386v2M723 387v4M1213 388v2M1295 388v2M1212 390v2M724 391v5M1211 392v2M1298 392v2M1210 394v2M725 396v4M1209 396v2M1301 396v2M1208 398v2M1303 399v2M726 400v4M1206 401v2M727 404v4M1203 405v2M1066 407v2M728 408v4M1201 408v2M729 412v3M1198 412v2M730 415v2M731 417v3M1077 419v2M732 420v3M1026 421v2M1079 422v2M733 423v3M1024 424v2M734 426v2M1023 426v2M1082 426v2M735 428v3M871 428v2M1022 428v3M870 430v2M1085 430v2M1178 430v2M736 431v3M1021 431v2M869 432v2M886 432v2M1020 433v2M1087 433v2M737 434v2M868 434v2M1175 434v2M1019 435v2M738 436v3M867 436v2M1089 436v2M1174 436v2M1018 437v2M866 438v2M892 438v2M1173 438v2M739 439v2M1017 439v2M1091 439v2M865 440v2M893 440v2M1172 440v2M740 441v3M1016 441v2M864 442v2M894 442v2M1093 442v2M1171 442v2M1015 443v2M741 444v2M863 444v2M895 444v2M1170 444v2M1095 445v2M742 446v2M862 446v2M1013 446v2M1169 446v2M897 447v2M743 448v2M861 448v2M1097 448v2M744 450v2M860 450v3M899 450v2M1166 450v2M1099 451v2M745 452v2M859 453v2M901 453v2M746 454v2M1101 454v2M1163 454v2M858 455v2M747 456v2M903 456v2M1162 456v2M857 457v2M1103 457v2M748 458v2M999 458v2M1161 458v2M856 459v2M905 459v2M749 460v2M855 461v2M906 461v2M997 461v2M750 462v3M1158 462v2M854 463v2M907 463v2M751 465v2M853 465v2M908 465v2M994 465v2M752 467v2M852 467v2M909 467v2M851 469v2M910 469v2M991 469v2M1114 469v2M754 470v2M850 471v2M911 471v2M990 471v2M849 473v2M912 473v3M989 473v2M757 474v2M913 476v2M759 477v2M846 477v2M986 477v2M914 478v3M762 481v2M843 481v2M915 481v2M983 481v2M842 483v2M916 483v3M981 484v2M841 485v2M917 486v2M979 487v2M839 488v2M918 488v3M978 489v2M838 490v2M919 491v2M977 491v2M837 492v2M920 493v2M975 494v2M835 495v2M921 495v2M974 496v2M922 497v2M833 498v2M973 498v2M923 499v2M972 500v2M971 502v2M926 503v2M970 504v2M969 506v2M968 508v2" stroke="#ff0000" stroke-width="1" fill="none" transform="translate(0.5,0)"/>
<path d="M110 154h3M108 155h2M113 155h3M106 156h2M116 156h3M105 157h1M119 157h4M104 158h1M123 158h3M102 159h2M126 159h2M101 160h1M128 160h2M100 161h1M130 161h2M132 162h1M133 163h2M98 164h1M135 164h1M97 165h1M136 165h2M138 166h2M140 167h3M95 168h1M143 168h3M146 169h2M148 170h3M93 171h1M151 171h4M155 172h3M158 173h2M171 173h11M160 174h3M167 174h4M182 174h2M163 175h4M184 175h1M90 176h1M185 176h2M187 177h1M188 178h2M190 179h2M192 180h2M194 181h2M196 182h1M86 183h1M197 183h1M84 184h2M199 186h1M200 187h1M79 193h1M77 194h2M204 194h1M76 195h1M75 196h1M73 197h2M206 197h1M359 197h4M4 198h3M71 198h2M356 198h3M363 198h4M7 199h3M70 199h1M354 199h2M367 199h2M10 200h2M69 200h1M208 200h1M352 200h2M369 200h2M12 201h8M22 201h10M68 201h1M350 201h2M371 201h1M20 202h2M32 202h2M67 202h1M348 202h2M372 202h3M34 203h3M66 203h1M210 203h1M346 203h2M375 203h3M37 204h11M65 204h1M344 204h2M378 204h2M48 205h4M63 205h2M342 205h2M380 205h3M52 206h4M60 206h3M212 206h1M340 206h2M383 206h2M56 207h4M213 207h1M339 207h1M385 207h2M214 208h1M337 208h2M387 208h1M215 209h1M336 209h1M388 209h3M216 210h1M335 210h1M391 210h3M217 211h1M333 211h2M394 211h2M332 212h1M396 212h2M331 213h1M398 213h2M219 214h1M330 214h1M400 214h1M220 215h3M329 215h1M401 215h2M223 216h4M239 216h8M251 216h4M328 216h1M403 216h1M227 217h12M247 217h4M255 217h3M327 217h1M404 217h1M258 218h2M326 218h1M405 218h2M260 219h9M325 219h1M407 219h1M269 220h2M324 220h1M408 220h2M271 221h1M322 221h2M410 221h2M272 222h7M320 222h2M412 222h1M279 223h4M319 223h1M413 223h2M283 224h3M318 224h1M415 224h1M286 225h2M317 225h1M416 225h1M288 226h1M316 226h1M417 226h1M289 227h2M314 227h2M418 227h1M291 228h1M311 228h3M419 228h1M292 229h3M307 229h4M420 229h1M295 230h12M421 230h2M423 231h1M424 232h1M425 233h2M427 234h1M428 235h1M429 236h1M431 239h1M432 240h1M433 241h1M435 244h1M436 245h1M438 248h1M440 251h1M464 298h1M468 305h1M683 306h8M680 307h3M691 307h4M679 308h1M695 308h2M677 309h2M697 309h2M676 310h1M699 310h1M675 311h1M700 311h1M472 312h1M674 312h1M701 312h2M673 313h1M703 313h1M672 314h1M704 314h1M474 315h1M671 315h1M705 315h1M706 316h1M707 317h1M476 318h1M669 318h1M708 318h1M668 319h1M667 320h1M478 321h1M710 321h1M665 323h1M480 324h1M664 324h1M712 324h1M481 325h1M663 325h1M714 327h1M483 328h1M661 328h1M484 329h1M660 329h1M485 330h2M659 330h1M716 330h1M487 331h1M657 331h2M717 331h1M488 332h1M656 332h1M489 333h2M654 333h2M491 334h1M652 334h2M719 334h1M492 335h1M650 335h2M720 335h1M493 336h2M648 336h2M495 337h1M619 337h7M646 337h2M496 338h1M616 338h3M626 338h2M643 338h3M722 338h1M497 339h2M614 339h2M628 339h15M499 340h1M612 340h2M500 341h1M611 341h1M501 342h2M609 342h2M503 343h1M608 343h1M504 344h3M607 344h1M507 345h3M605 345h2M510 346h2M604 346h1M512 347h3M602 347h2M515 348h12M599 348h3M527 349h3M596 349h3M728 349h1M530 350h2M595 350h1M532 351h3M593 351h2M535 352h3M592 352h1M730 352h1M538 353h2M590 353h2M540 354h1M588 354h2M541 355h1M587 355h1M732 355h1M542 356h1M585 356h2M733 356h1M543 357h1M584 357h1M544 358h1M583 358h1M545 359h2M581 359h2M735 359h1M547 360h1M580 360h1M736 360h1M548 361h1M579 361h1M737 361h1M549 362h2M577 362h2M551 363h1M575 363h2M552 364h2M572 364h3M739 364h1M554 365h2M570 365h2M740 365h1M556 366h2M567 366h3M558 367h2M563 367h4M560 368h3M742 368h1M1279 368h24M1276 369h3M1303 369h2M1275 370h1M744 371h1M1273 371h2M745 372h1M1272 372h1M746 373h1M1270 373h2M747 374h1M1268 374h2M748 375h1M1266 375h2M1264 376h2M1262 377h2M750 378h1M1259 378h3M1251 379h8M1248 380h3M752 381h1M1247 381h1M753 382h1M1245 382h2M1244 383h1M755 385h1M756 386h1M1242 386h1M1240 389h1M1239 390h1M760 393h1M1237 393h1M1236 394h1M762 396h1M1232 401h1M768 407h1M1228 408h1M1226 411h1M772 414h1M1224 414h1M774 417h1M1220 421h1M1219 422h1M1217 425h1M1088 426h3M1216 426h1M1086 427h2M1091 427h3M1084 428h2M1094 428h2M1082 429h2M1096 429h2M1214 429h1M1079 430h3M1098 430h2M1075 431h4M1100 431h2M1064 432h11M1102 432h2M1212 432h1M1063 433h1M1104 433h1M1211 433h1M1061 434h2M1105 434h2M1210 434h1M1060 435h1M1107 435h1M1209 435h1M1059 436h1M1108 436h2M1208 436h1M1057 437h2M1110 437h2M1207 437h1M1056 438h1M1112 438h3M1205 438h2M1055 439h1M1115 439h3M1204 439h1M1053 440h2M1118 440h2M1203 440h1M1052 441h1M1120 441h3M1201 441h2M1050 442h2M1123 442h4M1200 442h1M1048 443h2M1127 443h4M1199 443h1M1047 444h1M1131 444h7M1197 444h2M1045 445h2M1138 445h2M1196 445h1M1044 446h1M1140 446h2M1194 446h2M1043 447h1M1142 447h2M1192 447h2M1042 448h1M1144 448h2M1190 448h2M1041 449h1M1146 449h2M1188 449h2M1040 450h1M1148 450h2M1187 450h1M1039 451h1M1150 451h2M1185 451h2M792 452h1M1152 452h1M1183 452h2M1153 453h2M1176 453h7M1037 454h1M1155 454h1M1174 454h2M794 455h1M1036 455h1M1156 455h3M1167 455h7M1159 456h8M796 458h1M1034 458h1M1032 461h1M1031 462h1M1030 463h1M1029 464h1M800 465h1M1028 465h1M1027 466h1M875 467h4M1026 467h1M802 468h1M872 468h3M879 468h16M907 468h4M1025 468h1M870 469h2M895 469h12M911 469h3M935 469h4M1024 469h1M868 470h2M914 470h2M931 470h4M939 470h3M1023 470h1M804 471h1M866 471h2M916 471h3M927 471h4M942 471h2M805 472h1M864 472h2M919 472h8M944 472h3M863 473h1M947 473h3M1021 473h1M861 474h2M950 474h2M1020 474h1M807 475h1M860 475h1M952 475h3M1019 475h1M808 476h1M859 476h1M955 476h2M1017 476h2M809 477h1M857 477h2M957 477h2M1016 477h1M856 478h1M959 478h1M1015 478h1M854 479h2M960 479h1M1014 479h1M811 480h1M852 480h2M961 480h2M1013 480h1M812 481h1M850 481h2M963 481h1M1012 481h1M848 482h2M964 482h1M1010 482h2M847 483h1M965 483h2M1008 483h2M814 484h1M845 484h2M967 484h1M1006 484h2M844 485h1M968 485h2M1003 485h3M843 486h1M970 486h2M1000 486h3M816 487h1M841 487h2M972 487h3M998 487h2M817 488h2M840 488h1M975 488h23M819 489h1M838 489h2M820 490h2M836 490h2M822 491h2M834 491h2M824 492h3M831 492h3M827 493h4" stroke="#0000cd" stroke-width="1" fill="none" transform="translate(0,0.5)"/>
<path d="M99 162v2M96 166v2M94 169v2M92 172v2M91 174v2M89 177v2M88 179v2M87 181v2M198 184v2M83 185v2M82 187v2M201 188v2M81 189v2M202 190v2M80 191v2M203 192v2M205 195v2M207 198v2M209 201v2M211 204v2M218 212v2M430 237v2M434 242v2M437 246v2M439 249v2M441 252v2M442 254v2M443 256v2M444 258v2M445 260v2M446 262v2M447 264v2M448 266v2M449 268v2M450 270v2M451 272v2M452 274v2M453 276v2M454 278v2M455 280v2M456 282v2M457 284v2M458 286v2M459 288v2M460 290v2M461 292v2M462 294v2M463 296v2M465 299v2M466 301v2M467 303v2M469 306v2M470 308v2M471 310v2M473 313v2M475 316v2M670 316v2M477 319v2M709 319v2M666 321v2M479 322v2M711 322v2M713 325v2M482 326v2M662 326v2M715 328v2M718 332v2M721 336v2M723 339v2M724 341v2M725 343v2M726 345v2M727 347v2M729 350v2M731 353v2M734 357v2M738 362v2M741 366v2M743 369v2M749 376v2M751 379v2M754 383v2M1243 384v2M757 387v2M1241 387v2M758 389v2M759 391v2M1238 391v2M761 394v2M1235 395v2M763 397v2M1234 397v2M764 399v2M1233 399v2M765 401v2M1231 402v2M766 403v2M1230 404v2M767 405v2M1229 406v2M769 408v2M1227 409v2M770 410v2M771 412v2M1225 412v2M773 415v2M1223 415v2M1222 417v2M775 418v2M1221 419v2M776 420v2M777 422v2M1218 423v2M778 424v2M779 426v2M1215 427v2M780 428v2M781 430v2M1213 430v2M782 432v2M783 434v2M784 436v2M785 438v2M786 440v2M787 442v2M788 444v2M789 446v2M790 448v2M791 450v2M1038 452v2M793 453v2M795 456v2M1035 456v2M797 459v2M1033 459v2M798 461v2M799 463v2M801 466v2M803 469v2M1022 471v2M806 473v2M810 478v2M813 482v2M815 485v2" stroke="#0000cd" stroke-width="1" fill="none" transform="translate(0.5,0)"/>
<path d="M1228 620h1M1227 621h1M1229 621h2M1225 622h2M1231 622h1M1224 623h1M1232 623h1M1216 624h3M1222 624h2M1233 624h1M1219 625h3M1234 625h1M1235 626h1M1214 627h1M1024 628h3M1023 629h1M1027 629h3M86 630h1M594 630h2M1021 630h2M1030 630h2M1164 630h1M1212 630h1M591 631h3M856 631h3M984 631h3M1020 631h1M1032 631h2M1203 631h4M1210 631h2M19 632h8M588 632h3M608 632h1M840 632h3M854 632h2M859 632h2M982 632h2M987 632h2M1019 632h1M1034 632h2M1200 632h3M1207 632h3M15 633h4M27 633h2M88 633h3M586 633h2M609 633h2M839 633h1M843 633h4M851 633h3M861 633h1M979 633h3M989 633h1M1017 633h2M1036 633h6M1199 633h1M12 634h3M29 634h1M91 634h2M584 634h2M611 634h1M832 634h3M837 634h2M847 634h4M862 634h1M976 634h3M990 634h1M1015 634h2M1042 634h2M1175 634h1M1192 634h3M1197 634h2M11 635h1M328 635h3M335 635h4M582 635h2M606 635h1M648 635h1M660 635h13M831 635h1M835 635h2M863 635h1M975 635h1M991 635h1M1012 635h3M1136 635h1M1174 635h1M1191 635h1M1195 635h2M9 636h2M320 636h1M331 636h4M339 636h3M520 636h5M580 636h2M646 636h2M649 636h2M659 636h1M672 636h1M864 636h2M973 636h2M992 636h1M1011 636h1M1135 636h1M1173 636h1M1190 636h1M8 637h1M31 637h1M94 637h1M319 637h1M342 637h2M519 637h1M524 637h1M578 637h2M644 637h2M651 637h1M657 637h2M866 637h2M1010 637h1M1133 637h2M1168 637h5M1189 637h1M7 638h1M32 638h1M40 638h1M267 638h1M344 638h1M508 638h1M517 638h2M576 638h2M604 638h1M642 638h2M652 638h5M829 638h1M868 638h1M1009 638h1M1132 638h1M1188 638h1M1243 638h2M33 639h1M39 639h1M41 639h1M98 639h2M322 639h1M345 639h1M509 639h2M516 639h1M603 639h1M640 639h2M828 639h1M869 639h1M994 639h1M1008 639h1M1187 639h1M1241 639h2M42 640h1M68 640h2M96 640h2M317 640h1M346 640h1M511 640h1M514 640h2M639 640h1M827 640h1M870 640h1M952 640h3M1000 640h2M1007 640h1M1147 640h4M1185 640h2M5 641h1M43 641h1M66 641h2M70 641h2M168 641h5M265 641h1M315 641h2M347 641h1M506 641h1M512 641h2M638 641h1M826 641h1M871 641h1M955 641h2M998 641h2M1002 641h2M1005 641h2M1130 641h1M1143 641h4M1151 641h2M1183 641h2M1246 641h1M4 642h1M35 642h1M37 642h1M44 642h1M64 642h2M72 642h1M78 642h1M167 642h1M173 642h1M252 642h1M264 642h1M296 642h3M312 642h3M324 642h1M348 642h9M600 642h2M637 642h1M825 642h1M957 642h1M996 642h2M1004 642h1M1140 642h3M1181 642h2M36 643h1M45 643h2M64 643h1M73 643h2M151 643h1M251 643h1M253 643h1M287 643h1M296 643h1M299 643h3M311 643h1M357 643h2M600 643h1M620 643h2M636 643h1M824 643h1M950 643h1M1048 643h3M47 644h1M75 644h1M149 644h2M243 644h2M285 644h2M302 644h2M309 644h2M359 644h1M504 644h1M618 644h2M622 644h2M635 644h1M1051 644h3M48 645h1M76 645h1M147 645h2M165 645h1M175 645h1M240 645h3M245 645h2M262 645h1M280 645h5M304 645h5M503 645h1M529 645h1M617 645h1M624 645h1M633 645h2M959 645h1M1054 645h2M49 646h2M140 646h7M160 646h5M176 646h1M232 646h3M238 646h2M247 646h1M249 646h1M255 646h1M279 646h1M502 646h1M530 646h2M571 646h1M632 646h1M677 646h1M948 646h1M960 646h1M1056 646h3M1264 646h7M51 647h1M139 647h1M177 647h2M235 647h3M248 647h1M256 647h3M277 647h2M501 647h1M532 647h1M567 647h4M932 647h1M961 647h2M1059 647h2M1264 647h1M1271 647h12M52 648h3M137 648h2M179 648h1M223 648h2M259 648h2M276 648h1M500 648h1M533 648h2M564 648h3M930 648h2M933 648h1M963 648h1M1061 648h2M1084 648h1M1283 648h2M55 649h2M136 649h1M158 649h1M180 649h1M220 649h3M225 649h1M230 649h1M274 649h2M498 649h2M535 649h1M564 649h1M630 649h1M679 649h1M928 649h2M964 649h4M1063 649h1M1083 649h1M1085 649h1M1285 649h1M57 650h1M135 650h1M181 650h2M219 650h1M226 650h1M273 650h1M496 650h2M536 650h1M680 650h1M926 650h2M1081 650h2M1286 650h1M128 651h2M134 651h1M183 651h1M227 651h1M484 651h1M495 651h1M681 651h2M924 651h2M935 651h1M1075 651h6M1287 651h1M105 652h2M127 652h1M130 652h2M133 652h1M184 652h1M228 652h1M476 652h1M483 652h1M485 652h2M628 652h1M683 652h1M792 652h1M924 652h1M936 652h1M1072 652h3M1087 652h1M1288 652h6M59 653h2M107 653h1M125 653h2M132 653h1M185 653h2M192 653h2M217 653h1M475 653h1M477 653h2M482 653h1M487 653h1M538 653h1M684 653h1M776 653h1M793 653h2M877 653h1M890 653h1M937 653h2M1072 653h1M1088 653h3M1294 653h2M60 654h1M108 654h2M124 654h1M187 654h1M190 654h2M194 654h2M216 654h1M384 654h2M474 654h1M479 654h1M481 654h1M488 654h3M493 654h1M775 654h1M777 654h1M795 654h1M878 654h1M904 654h3M939 654h1M943 654h1M1091 654h2M1253 654h1M1296 654h3M110 655h2M123 655h1M188 655h2M196 655h1M214 655h2M383 655h1M386 655h2M473 655h1M480 655h1M491 655h2M763 655h3M773 655h2M778 655h1M790 655h1M796 655h2M879 655h1M902 655h2M907 655h3M940 655h3M1093 655h2M1108 655h2M1254 655h2M1299 655h2M112 656h6M122 656h1M197 656h1M211 656h3M381 656h2M388 656h3M472 656h1M540 656h1M756 656h7M766 656h2M771 656h2M779 656h1M798 656h2M880 656h2M888 656h1M900 656h2M910 656h2M1095 656h1M1107 656h1M1110 656h2M1256 656h4M1301 656h1M118 657h2M121 657h1M208 657h3M376 657h5M391 657h2M427 657h2M471 657h1M541 657h1M768 657h3M780 657h2M800 657h2M882 657h2M886 657h2M898 657h2M912 657h1M1096 657h6M1106 657h1M1112 657h2M1302 657h1M120 658h1M206 658h2M393 658h1M400 658h5M424 658h3M470 658h1M782 658h2M787 658h2M802 658h2M884 658h2M896 658h2M1102 658h2M1105 658h1M1114 658h2M1303 658h1M199 659h1M203 659h3M399 659h1M405 659h2M412 659h5M423 659h1M469 659h1M784 659h3M804 659h7M1104 659h1M1116 659h7M1304 659h1M200 660h3M398 660h1M407 660h1M410 660h2M417 660h1M468 660h1M543 660h1M556 660h4M688 660h9M732 660h2M750 660h1M811 660h4M1123 660h1M395 661h1M397 661h1M408 661h2M418 661h1M467 661h1M544 661h3M555 661h1M697 661h1M704 661h1M732 661h1M734 661h2M815 661h1M369 662h1M396 662h1M419 662h1M421 662h1M457 662h1M466 662h1M547 662h4M553 662h2M703 662h1M705 662h1M736 662h5M370 663h2M420 663h1M458 663h1M465 663h1M551 663h2M702 663h1M706 663h1M741 663h1M752 663h1M372 664h1M432 664h3M459 664h1M463 664h2M699 664h1M701 664h1M707 664h1M742 664h1M916 664h3M435 665h3M460 665h3M700 665h1M708 665h1M743 665h2M919 665h1M438 666h2M709 666h1M744 666h1M440 667h1M441 668h2M443 669h1M711 669h1M444 670h1M712 670h3M445 671h2M715 671h4M447 672h1M719 672h4M448 673h4M723 673h4M727 674h1" stroke="#1e90ff" stroke-width="1" fill="none" transform="translate(0,0.5)"/>
<path d="M1215 625v2M84 627v2M1236 627v2M85 628v2M1213 628v2M83 629v3M596 629v2M1237 629v3M87 631v2M597 631v4M1163 631v2M1165 631v2M82 632v3M1238 632v3M607 633v2M1162 633v2M1166 633v2M1176 633v2M30 635v2M81 635v3M93 635v2M598 635v3M612 635v2M1044 635v2M1161 635v2M1167 635v2M1177 635v2M1239 635v3M327 636v2M605 636v2M830 636v2M1137 636v2M268 637v2M321 637v2M613 637v2M673 637v2M972 637v2M993 637v2M1045 637v2M1160 637v3M1178 637v2M80 638v2M95 638v2M100 638v2M318 638v2M326 638v2M525 638v2M599 638v4M1138 638v2M1240 638v2M6 639v2M266 639v2M269 639v3M507 639v2M575 639v2M614 639v3M674 639v3M971 639v3M1046 639v2M1131 639v2M1179 639v2M1245 639v2M34 640v2M38 640v2M79 640v2M101 640v3M323 640v2M325 640v2M526 640v2M602 640v2M995 640v2M1139 640v2M1159 640v2M574 641v2M951 641v2M1047 641v2M1180 641v2M152 642v2M270 642v4M288 642v2M505 642v2M527 642v2M615 642v2M675 642v2M872 642v2M970 642v3M1129 642v2M1153 642v2M1158 642v3M1247 642v2M77 643v2M102 643v4M166 643v2M174 643v2M263 643v2M573 643v2M958 643v2M63 644v3M153 644v2M250 644v2M254 644v2M289 644v2M295 644v2M528 644v2M616 644v2M676 644v2M823 644v2M873 644v2M949 644v2M1128 644v2M1154 644v2M1248 644v2M360 645v2M572 645v2M969 645v3M1157 645v2M154 646v3M261 646v2M271 646v3M290 646v3M294 646v3M625 646v2M822 646v2M874 646v3M1127 646v4M1155 646v2M1249 646v2M62 647v3M103 647v3M159 647v2M231 647v2M361 647v2M631 647v2M678 647v2M947 647v2M1156 647v2M626 648v2M821 648v2M968 648v2M1250 648v3M1263 648v2M155 649v2M272 649v2M291 649v2M293 649v2M362 649v2M875 649v2M934 649v2M946 649v2M61 650v3M104 650v2M157 650v2M229 650v2M563 650v3M627 650v2M629 650v2M820 650v3M892 650v2M1064 650v2M1086 650v2M1126 650v4M1262 650v3M58 651v2M156 651v2M218 651v2M292 651v2M363 651v2M537 651v2M876 651v2M891 651v2M945 651v2M1251 651v2M494 652v2M893 652v2M1065 652v3M364 653v2M562 653v3M791 653v2M819 653v2M923 653v4M944 653v2M1252 653v2M1261 653v2M539 654v2M685 654v2M889 654v2M894 654v2M1071 654v2M1125 654v4M365 655v2M818 655v3M1066 655v3M1260 655v2M561 656v3M686 656v2M789 656v2M895 656v2M1070 656v3M198 657v2M366 657v2M748 657v2M755 657v2M922 657v3M375 658v2M429 658v2M542 658v2M687 658v2M749 658v2M817 658v2M913 658v2M1067 658v3M1124 658v3M367 659v2M394 659v2M560 659v2M747 659v2M754 659v2M1069 659v2M374 660v2M422 660v2M430 660v2M816 660v2M914 660v2M921 660v4M368 661v2M456 661v2M746 661v2M751 661v2M753 661v2M1068 661v2M373 662v2M431 662v2M698 662v2M731 662v4M915 662v2M455 663v3M745 663v2M920 664v2M454 666v3M730 666v3M710 667v2M453 669v3M729 669v4M452 672v2M728 673v2" stroke="#1e90ff" stroke-width="1" fill="none" transform="translate(0.5,0)"/>
<path stroke="#c0c0c0" stroke-width="1" fill="none" transform="translate(0.5,0)" d="M4 746v21M8 746v14M12 746v6M20 741v6M24 737v10M28 734v13M32 733v14M36 735v12M40 734v13M44 735v12M48 736v11M52 739v8M56 742v5M60 746v1M64 744v3M68 743v4M72 742v5M76 743v4M80 741v6M84 732v15M88 727v20M92 725v22M96 725v22M100 725v22M104 732v15M108 739v8M112 746v1M116 746v6M120 746v12M124 746v15M128 746v15M132 746v16M136 746v16M140 746v13M144 746v12M148 746v10M152 746v7M156 746v9M160 746v8M164 746v7M168 746v4M172 746v1M176 746v1M180 746v3M184 746v5M188 746v9M192 746v11M196 746v14M200 746v19M204 746v22M208 746v24M212 746v24M216 746v24M220 746v21M224 746v19M228 746v18M232 746v16M236 746v14M240 746v11M244 746v9M248 746v8M252 746v6M256 746v5M260 746v5M264 746v3M268 746v1M272 746v1M276 746v2M280 746v2M284 746v1M288 746v1M292 746v2M300 746v1M304 746v1M308 746v1M312 744v3M316 743v4M320 739v8M324 739v8M328 735v12M332 733v14M336 731v16M340 730v17M344 729v18M348 731v16M352 732v15M356 733v14M360 735v12M364 740v7M368 746v1M372 746v9M376 746v13M380 746v15M384 746v17M388 746v18M392 746v20M396 746v23M400 746v24M404 746v25M408 746v27M412 746v27M416 746v27M420 746v29M424 746v29M428 746v28M432 746v31M436 746v32M440 746v35M444 746v38M448 746v42M452 746v46M456 746v44M460 746v46M464 746v46M468 746v44M472 746v41M476 746v37M480 746v35M484 746v31M488 746v29M492 746v28M496 746v25M500 746v22M504 746v18M508 746v12M512 746v9M516 746v5M520 746v1M524 745v2M528 745v2M532 746v1M540 746v4M544 746v9M548 746v14M552 746v18M556 746v20M560 746v21M564 746v19M568 746v16M572 746v14M576 746v9M580 746v4M588 742v5M592 738v9M596 734v13M600 736v11M604 735v12M608 731v16M612 729v18M616 732v15M620 733v14M624 735v12M628 740v7M632 741v6M636 741v6M640 739v8M644 736v11M648 733v14M652 732v15M656 732v15M660 730v17M664 729v18M668 728v19M672 727v20M676 730v17M680 734v13M684 739v8M692 746v5M696 746v10M700 746v16M704 746v19M708 746v24M712 746v31M716 746v36M720 746v42M724 746v46M728 746v50M732 746v49M736 746v48M740 746v47M744 746v49M748 746v46M752 746v48M756 746v45M760 746v43M764 746v41M768 746v39M772 746v38M776 746v35M780 746v34M784 746v34M788 746v33M792 746v31M796 746v30M800 746v29M804 746v30M808 746v30M812 746v30M816 746v30M820 746v27M824 746v22M828 746v16M832 746v8M836 746v3M840 744v3M844 739v8M848 736v11M852 734v13M856 730v17M860 729v18M864 728v19M868 729v18M872 731v16M876 736v11M880 741v6M888 746v3M892 746v4M896 746v8M900 746v11M904 746v12M908 746v13M912 746v15M916 746v19M920 746v23M924 746v21M928 746v19M932 746v17M936 746v17M940 746v18M944 746v18M948 746v15M952 746v10M956 746v7M960 746v6M964 746v6M968 746v6M972 746v2M976 743v4M980 739v8M984 734v13M988 731v16M992 730v17M996 731v16M1000 732v15M1004 733v14M1008 733v14M1012 731v16M1016 729v18M1020 727v20M1024 723v24M1028 721v26M1032 720v27M1036 721v26M1040 721v26M1044 722v25M1048 725v22M1052 728v19M1056 731v16M1060 734v13M1064 737v10M1068 744v3M1076 746v2M1080 746v3M1084 746v3M1088 746v5M1092 746v7M1096 746v9M1100 746v11M1104 746v13M1108 746v13M1112 746v14M1116 746v16M1120 746v17M1124 746v17M1128 746v14M1132 746v10M1136 746v5M1140 746v3M1144 746v1M1152 745v2M1156 746v1M1160 744v3M1164 738v9M1168 736v11M1172 735v12M1176 732v15M1180 733v14M1184 734v13M1188 733v14M1192 731v16M1196 729v18M1200 727v20M1204 725v22M1208 724v23M1212 722v25M1216 718v29M1220 716v31M1224 713v34M1228 709v38M1232 706v41M1236 706v41M1240 710v37M1244 713v34M1248 718v29M1252 726v21M1256 734v13M1260 740v7M1264 742v5M1268 743v4M1272 744v3M1276 745v2M1280 746v1M1288 746v2M1292 746v4M1296 746v6M1300 746v8M1304 746v11"/>
<path d="M1249 711h2M1243 712h3M1251 712h1M1255 713h1M1238 714h2M1256 714h1M1237 715h1M1257 715h1M1232 717h2M1231 718h1M1261 718h1M1262 719h1M1227 720h1M1263 720h1M1225 721h2M1047 722h1M1051 722h3M1045 723h2M1057 723h2M1039 724h3M1059 724h1M1220 724h2M1267 724h1M1063 725h1M1219 725h1M1268 725h1M1034 726h2M1064 726h2M1269 726h1M1033 727h1M1214 727h2M1027 728h3M1213 728h1M1023 729h1M1069 729h2M1207 729h3M678 730h3M684 730h2M1021 730h2M1071 730h1M1203 730h1M1273 730h1M104 731h1M108 731h3M360 731h3M672 731h3M686 731h1M877 731h2M1015 731h3M1201 731h2M1274 731h1M102 732h2M114 732h2M354 732h3M366 732h1M668 732h1M872 732h2M879 732h1M1011 732h1M1275 732h1M116 733h1M348 733h3M367 733h2M620 733h1M624 733h3M630 733h1M666 733h2M690 733h2M871 733h1M883 733h3M1009 733h2M1075 733h1M1195 733h3M98 734h1M618 734h2M631 734h2M636 734h3M692 734h1M1076 734h1M54 735h3M96 735h2M344 735h1M642 735h3M660 735h3M867 735h1M889 735h1M1004 735h2M1077 735h1M1190 735h2M48 736h3M60 736h3M120 736h1M342 736h2M372 736h1M614 736h1M648 736h3M654 736h3M865 736h2M890 736h2M1003 736h1M1189 736h1M1279 736h1M66 737h1M92 737h1M121 737h1M373 737h2M612 737h2M696 737h1M1184 737h2M1280 737h1M44 738h1M67 738h2M90 738h2M122 738h1M336 738h3M697 738h1M998 738h2M1081 738h2M1183 738h1M1281 738h1M43 739h1M72 739h3M698 739h1M895 739h1M997 739h1M1083 739h1M1179 739h1M42 740h1M78 740h1M84 740h3M332 740h1M608 740h1M861 740h1M896 740h1M1177 740h2M1285 740h1M79 741h2M330 741h2M378 741h1M607 741h1M860 741h1M897 741h1M993 741h1M1286 741h2M126 742h1M379 742h1M606 742h1M859 742h1M992 742h1M1087 742h1M1172 742h2M37 743h2M127 743h1M324 743h3M380 743h1M702 743h1M991 743h1M1088 743h2M1171 743h1M1291 743h1M36 744h1M128 744h1M319 744h2M703 744h1M901 744h1M1292 744h2M318 745h1M602 745h1M704 745h1M902 745h1M987 745h1M1166 745h2M307 746h2M312 746h3M601 746h1M856 746h1M903 746h1M985 746h2M1093 746h2M1165 746h1M1297 746h2M295 747h2M300 747h3M306 747h1M384 747h1M600 747h1M855 747h1M1095 747h1M1299 747h1M32 748h1M132 748h1M288 748h3M294 748h1M385 748h2M546 748h1M854 748h1M1161 748h1M1303 748h1M31 749h1M133 749h1M283 749h2M540 749h3M547 749h2M707 749h1M907 749h1M1099 749h1M1160 749h1M1304 749h1M30 750h1M134 750h1M276 750h3M282 750h1M536 750h1M552 750h2M596 750h1M708 750h1M908 750h1M981 750h1M1100 750h2M1159 750h1M180 751h3M186 751h3M192 751h3M272 751h1M535 751h1M554 751h1M595 751h1M709 751h1M909 751h1M980 751h1M176 752h1M198 752h1M270 752h2M390 752h1M534 752h1M594 752h1M851 752h1M979 752h1M1105 752h2M1154 752h2M138 753h1M174 753h2M199 753h2M391 753h1M558 753h1M850 753h1M913 753h1M1107 753h1M1153 753h1M139 754h1M266 754h1M392 754h1M559 754h1M849 754h1M914 754h2M975 754h1M1111 754h1M140 755h1M168 755h3M204 755h1M264 755h2M529 755h2M560 755h1M712 755h1M973 755h2M1112 755h2M1148 755h2M26 756h1M205 756h2M260 756h1M528 756h1M589 756h2M1117 756h1M1147 756h1M144 757h2M163 757h2M258 757h2M564 757h2M588 757h1M919 757h1M968 757h2M1118 757h2M1143 757h1M146 758h1M156 758h3M162 758h1M396 758h1M566 758h1M846 758h1M920 758h2M967 758h1M1141 758h2M150 759h3M210 759h2M254 759h1M397 759h1M524 759h1M584 759h1M845 759h1M963 759h1M1123 759h3M1135 759h3M24 760h1M212 760h1M252 760h2M398 760h1M523 760h1M570 760h2M582 760h2M844 760h1M925 760h1M961 760h2M1129 760h3M522 761h1M572 761h1M576 761h3M716 761h1M926 761h2M247 762h2M717 762h1M955 762h3M216 763h2M246 763h1M402 763h2M718 763h1M931 763h3M937 763h2M951 763h1M218 764h1M242 764h1M404 764h1M840 764h1M939 764h1M943 764h3M949 764h2M222 765h1M240 765h2M517 765h2M839 765h1M20 766h1M223 766h2M228 766h3M235 766h2M408 766h2M516 766h1M838 766h1M19 767h1M234 767h1M410 767h1M721 767h1M18 768h1M414 768h1M415 769h2M512 769h1M420 770h2M511 770h1M833 770h2M422 771h1M510 771h1M832 771h1M426 772h1M427 773h2M432 773h3M828 773h1M14 774h1M438 774h1M506 774h1M826 774h2M439 775h2M505 775h1M727 775h1M504 776h1M820 776h3M444 777h3M814 777h3M11 778h1M500 778h1M804 778h1M808 778h3M450 779h2M499 779h1M730 779h1M802 779h2M452 780h1M498 780h1M731 780h1M732 781h1M796 781h3M456 782h2M494 782h1M792 782h1M458 783h1M492 783h2M790 783h2M6 784h1M736 784h1M5 785h1M462 785h2M488 785h1M737 785h2M786 785h1M4 786h1M464 786h1M486 786h2M784 786h2M468 787h3M780 787h1M474 788h1M480 788h3M742 788h1M778 788h2M475 789h2M743 789h1M744 790h1M772 790h3M767 791h2M748 792h3M766 792h1M754 793h1M760 793h3M755 794h2" stroke="#ff0000" stroke-width="1" fill="none" transform="translate(0,0.5)"/>
<path d="M27 754v2M713 756v2M23 761v2M722 768v2M15 772v2M726 773v2M10 779v2" stroke="#ff0000" stroke-width="1" fill="none" transform="translate(0.5,0)"/>
<rect x="3" y="24" width="1638" height="1" fill="#000"/>
<rect x="3" y="591" width="1638" height="1" fill="#000"/>
<rect x="3" y="24" width="1" height="568" fill="#000"/>
<rect x="1640" y="24" width="1" height="568" fill="#000"/>
<rect x="3" y="593" width="1638" height="1" fill="#000"/>
<rect x="3" y="697" width="1638" height="1" fill="#000"/>
<rect x="3" y="593" width="1" height="105" fill="#000"/>
<rect x="1640" y="593" width="1" height="105" fill="#000"/>
<rect x="3" y="699" width="1638" height="1" fill="#000"/>
<rect x="3" y="802" width="1638" height="1" fill="#000"/>
<rect x="3" y="699" width="1" height="104" fill="#000"/>
<rect x="1640" y="699" width="1" height="104" fill="#000"/>
<rect x="1641" y="27" width="3" height="1" fill="#000"/>
<rect x="1641" y="60" width="3" height="1" fill="#000"/>
<rect x="1641" y="93" width="3" height="1" fill="#000"/>
<rect x="1641" y="126" width="3" height="1" fill="#000"/>
<rect x="1641" y="159" width="3" height="1" fill="#000"/>
<rect x="1641" y="192" width="3" height="1" fill="#000"/>
<rect x="1641" y="225" width="3" height="1" fill="#000"/>
<rect x="1641" y="258" width="3" height="1" fill="#000"/>
<rect x="1641" y="291" width="3" height="1" fill="#000"/>
<rect x="1641" y="324" width="3" height="1" fill="#000"/>
<rect x="1641" y="357" width="3" height="1" fill="#000"/>
<rect x="1641" y="390" width="3" height="1" fill="#000"/>
<rect x="1641" y="423" width="3" height="1" fill="#000"/>
<rect x="1641" y="456" width="3" height="1" fill="#000"/>
<rect x="1641" y="489" width="3" height="1" fill="#000"/>
<rect x="1641" y="522" width="3" height="1" fill="#000"/>
<rect x="1641" y="555" width="3" height="1" fill="#000"/>
<rect x="1641" y="588" width="3" height="1" fill="#000"/>
<rect x="1641" y="595" width="2" height="1" fill="#000"/>
<rect x="1641" y="696" width="2" height="1" fill="#000"/>
<rect x="1641" y="701" width="2" height="1" fill="#000"/>
<rect x="1641" y="746" width="2" height="1" fill="#000"/>
<rect x="1641" y="801" width="2" height="1" fill="#000"/>
<rect x="4" y="803" width="1" height="3" fill="#000"/>
<rect x="68" y="803" width="1" height="3" fill="#000"/>
<rect x="132" y="803" width="1" height="3" fill="#000"/>
<rect x="196" y="803" width="1" height="3" fill="#000"/>
<rect x="260" y="803" width="1" height="3" fill="#000"/>
<rect x="324" y="803" width="1" height="3" fill="#000"/>
<rect x="388" y="803" width="1" height="3" fill="#000"/>
<rect x="452" y="803" width="1" height="3" fill="#000"/>
<rect x="516" y="803" width="1" height="3" fill="#000"/>
<rect x="580" y="803" width="1" height="3" fill="#000"/>
<rect x="644" y="803" width="1" height="3" fill="#000"/>
<rect x="708" y="803" width="1" height="3" fill="#000"/>
<rect x="772" y="803" width="1" height="3" fill="#000"/>
<rect x="836" y="803" width="1" height="3" fill="#000"/>
<rect x="900" y="803" width="1" height="3" fill="#000"/>
<rect x="964" y="803" width="1" height="3" fill="#000"/>
<rect x="1028" y="803" width="1" height="3" fill="#000"/>
<rect x="1092" y="803" width="1" height="3" fill="#000"/>
<rect x="1156" y="803" width="1" height="3" fill="#000"/>
<rect x="1220" y="803" width="1" height="3" fill="#000"/>
<rect x="1284" y="803" width="1" height="3" fill="#000"/>
<rect x="4" y="213" width="1636" height="2" fill="#ff0000"/>
<rect x="4" y="298" width="1636" height="2" fill="#ff0000"/>
<rect x="3" y="296" width="6" height="6" fill="#ff0000"/><rect x="5" y="298" width="2" height="2" fill="#fff"/>
<rect x="1634" y="296" width="6" height="6" fill="#ff0000"/><rect x="1636" y="298" width="2" height="2" fill="#fff"/>
<rect x="4" y="382" width="1636" height="2" fill="#00ff00"/>
<rect x="3" y="380" width="6" height="6" fill="#00ff00"/><rect x="5" y="382" width="2" height="2" fill="#fff"/>
<rect x="1634" y="380" width="6" height="6" fill="#00ff00"/><rect x="1636" y="382" width="2" height="2" fill="#fff"/>
<rect x="4" y="467" width="1636" height="2" fill="#0000ff"/>
<rect x="3" y="465" width="6" height="6" fill="#0000ff"/><rect x="5" y="467" width="2" height="2" fill="#fff"/>
<rect x="1634" y="465" width="6" height="6" fill="#0000ff"/><rect x="1636" y="467" width="2" height="2" fill="#fff"/>
<rect x="4" y="576" width="1636" height="2" fill="#0000ff"/>
<rect x="3" y="574" width="6" height="6" fill="#0000ff"/><rect x="5" y="576" width="2" height="2" fill="#fff"/>
<rect x="1634" y="574" width="6" height="6" fill="#0000ff"/><rect x="1636" y="576" width="2" height="2" fill="#fff"/>
<path d="M1307 25 L1316 25 L1311.5 29.8 Z" fill="#c0c0c0" shape-rendering="geometricPrecision"/>
<path d="M7 31 L15 31 L11 35 Z" fill="#000" shape-rendering="geometricPrecision"/>
<rect x="0" y="823" width="1683" height="1" fill="#e6e6e6"/><rect x="0" y="824" width="1683" height="1" fill="#f2f2f2"/>
<rect x="0" y="825" width="1683" height="1" fill="#000"/>
<rect x="0" y="826" width="1683" height="19" fill="#f0f0f0"/>
<rect x="0" y="845" width="1683" height="1" fill="#fdfdfd"/>
<rect x="0" y="826" width="1" height="18" fill="#696969"/>
<rect x="209" y="825" width="104" height="19" fill="#000"/><rect x="210" y="825" width="102" height="18" fill="#fff"/>
<path d="M1660 831 L1660 838 L1656 834.5 Z" fill="#a0a0a0" shape-rendering="geometricPrecision"/>
<path d="M1675 831 L1675 838 L1679 834.5 Z" fill="#a0a0a0" shape-rendering="geometricPrecision"/>
</svg>
<div class="lb" style="top:208px;background:#ff0000"><span>0.71016</span></div>
<div class="lb" style="top:293px;background:#ff0000"><span>0.70007</span></div>
<div class="lb" style="top:377px;background:#00ff00"><span>0.69010</span></div>
<div class="lb" style="top:429px;background:#000000"><span>0.68402</span></div>
<div class="lb" style="top:462px;background:#0000ff"><span>0.68000</span></div>
<div class="lb" style="top:571px;background:#0000ff"><span>0.66706</span></div>
<div class="t" style="left:1646px;top:22px;font-size:10px;letter-spacing:-0.449px;color:#000">0.73240</div>
<div class="t" style="left:1646px;top:55px;font-size:10px;letter-spacing:-0.449px;color:#000">0.72850</div>
<div class="t" style="left:1646px;top:88px;font-size:10px;letter-spacing:-0.449px;color:#000">0.72460</div>
<div class="t" style="left:1646px;top:121px;font-size:10px;letter-spacing:-0.449px;color:#000">0.72060</div>
<div class="t" style="left:1646px;top:154px;font-size:10px;letter-spacing:-0.449px;color:#000">0.71670</div>
<div class="t" style="left:1646px;top:187px;font-size:10px;letter-spacing:-0.449px;color:#000">0.71280</div>
<div class="t" style="left:1646px;top:220px;font-size:10px;letter-spacing:-0.449px;color:#000">0.70890</div>
<div class="t" style="left:1646px;top:253px;font-size:10px;letter-spacing:-0.449px;color:#000">0.70490</div>
<div class="t" style="left:1646px;top:286px;font-size:10px;letter-spacing:-0.449px;color:#000">0.70100</div>
<div class="t" style="left:1646px;top:319px;font-size:10px;letter-spacing:-0.449px;color:#000">0.69710</div>
<div class="t" style="left:1646px;top:352px;font-size:10px;letter-spacing:-0.449px;color:#000">0.69320</div>
<div class="t" style="left:1646px;top:385px;font-size:10px;letter-spacing:-0.449px;color:#000">0.68920</div>
<div class="t" style="left:1646px;top:418px;font-size:10px;letter-spacing:-0.449px;color:#000">0.68530</div>
<div class="t" style="left:1646px;top:451px;font-size:10px;letter-spacing:-0.449px;color:#000">0.68140</div>
<div class="t" style="left:1646px;top:484px;font-size:10px;letter-spacing:-0.449px;color:#000">0.67750</div>
<div class="t" style="left:1646px;top:517px;font-size:10px;letter-spacing:-0.449px;color:#000">0.67350</div>
<div class="t" style="left:1646px;top:550px;font-size:10px;letter-spacing:-0.449px;color:#000">0.66960</div>
<div class="t" style="left:1646px;top:583px;font-size:10px;letter-spacing:-0.449px;color:#000">0.66570</div>
<div class="t" style="left:1644px;top:595px;font-size:10px;letter-spacing:-0.489px;color:#000">100</div>
<div class="t" style="left:1643px;top:620px;font-size:10px;letter-spacing:-0.489px;color:#000">70</div>
<div class="t" style="left:1643px;top:661px;font-size:10px;letter-spacing:-0.489px;color:#000">30</div>
<div class="t" style="left:1644px;top:685px;font-size:10px;letter-spacing:-0.489px;color:#000">0</div>
<div class="t" style="left:1644px;top:701px;font-size:10px;letter-spacing:-0.463px;color:#000">0.005076</div>
<div class="t" style="left:1644px;top:741px;font-size:10px;letter-spacing:-0.365px;color:#000">0.00</div>
<div class="t" style="left:1643px;top:790px;font-size:10px;letter-spacing:-0.440px;color:#000">-0.006148</div>
<div class="t" style="left:3px;top:806px;font-size:10px;letter-spacing:-0.435px;color:#000">8 Jan 2019</div>
<div class="t" style="left:67px;top:806px;font-size:10px;letter-spacing:-0.440px;color:#000">26 Jan 2019</div>
<div class="t" style="left:131px;top:806px;font-size:10px;letter-spacing:-0.449px;color:#000">14 Feb 2019</div>
<div class="t" style="left:195px;top:806px;font-size:10px;letter-spacing:-0.445px;color:#000">5 Mar 2019</div>
<div class="t" style="left:259px;top:806px;font-size:10px;letter-spacing:-0.449px;color:#000">23 Mar 2019</div>
<div class="t" style="left:323px;top:806px;font-size:10px;letter-spacing:-0.426px;color:#000">11 Apr 2019</div>
<div class="t" style="left:387px;top:806px;font-size:10px;letter-spacing:-0.431px;color:#000">30 Apr 2019</div>
<div class="t" style="left:451px;top:806px;font-size:10px;letter-spacing:-0.462px;color:#000">18 May 2019</div>
<div class="t" style="left:515px;top:806px;font-size:10px;letter-spacing:-0.435px;color:#000">6 Jun 2019</div>
<div class="t" style="left:579px;top:806px;font-size:10px;letter-spacing:-0.440px;color:#000">25 Jun 2019</div>
<div class="t" style="left:643px;top:806px;font-size:10px;letter-spacing:-0.414px;color:#000">13 Jul 2019</div>
<div class="t" style="left:707px;top:806px;font-size:10px;letter-spacing:-0.445px;color:#000">1 Aug 2019</div>
<div class="t" style="left:771px;top:806px;font-size:10px;letter-spacing:-0.449px;color:#000">20 Aug 2019</div>
<div class="t" style="left:835px;top:806px;font-size:10px;letter-spacing:-0.450px;color:#000">7 Sep 2019</div>
<div class="t" style="left:899px;top:806px;font-size:10px;letter-spacing:-0.454px;color:#000">26 Sep 2019</div>
<div class="t" style="left:963px;top:806px;font-size:10px;letter-spacing:-0.436px;color:#000">15 Oct 2019</div>
<div class="t" style="left:1027px;top:806px;font-size:10px;letter-spacing:-0.450px;color:#000">2 Nov 2019</div>
<div class="t" style="left:1091px;top:806px;font-size:10px;letter-spacing:-0.454px;color:#000">21 Nov 2019</div>
<div class="t" style="left:1155px;top:806px;font-size:10px;letter-spacing:-0.454px;color:#000">10 Dec 2019</div>
<div class="t" style="left:1219px;top:806px;font-size:10px;letter-spacing:-0.454px;color:#000">28 Dec 2019</div>
<div class="t" style="left:1283px;top:806px;font-size:10px;letter-spacing:-0.440px;color:#000">16 Jan 2020</div>
<div class="t" style="left:20px;top:27px;font-size:10px;letter-spacing:-0.144px;color:#000">AUDUSD,Daily</div>
<div class="t" style="left:91px;top:27px;font-size:10px;letter-spacing:-0.368px;color:#000">0.68585 0.68599 0.68261 0.68402</div>
<div class="t" style="left:8px;top:597px;font-size:10px;letter-spacing:-0.358px;color:#000">RSI(14) 36.8162</div>
<div class="t" style="left:8px;top:703px;font-size:10px;letter-spacing:-0.329px;color:#000">MACD(12,26,9) -0.001198 -0.000294</div>
<div class="tf" style="left:87px">M1</div>
<div class="tf" style="left:115px">M5</div>
<div class="tf" style="left:141px">M15</div>
<div class="tf" style="left:169px">M30</div>
<div class="tf" style="left:200px">H1</div>
<div class="tf" style="left:227px">H4</div>
<div class="tf" style="left:256px">D1</div>
<div class="tf" style="left:284px">W1</div>
<div class="tf" style="left:310px">MN</div>
<div class="tab" style="left:17px;color:#7d7d7d;letter-spacing:-0.015px">EURUSD,Daily</div>
<div class="tab" style="left:119px;color:#7d7d7d;letter-spacing:-0.056px">USDCHF,Daily</div>
<div class="tab" style="left:220px;color:#000;letter-spacing:0.152px">AUDUSD,Daily</div>
<div class="tab" style="left:324px;color:#7d7d7d;letter-spacing:0.110px">USDCAD,Daily</div>
<div class="tab" style="left:427px;color:#7d7d7d;letter-spacing:0.222px">USDCNH,Daily</div>
<div class="tab" style="left:533px;color:#7d7d7d;letter-spacing:-0.015px">EURUSD,Daily</div>
<div class="tab" style="left:637px;color:#7d7d7d;letter-spacing:-0.095px">GBPUSD,H4</div>
<div class="a" style="left:110px;top:828px;width:1px;height:14px;background:#7d7d7d"></div>
<div class="a" style="left:416px;top:828px;width:1px;height:14px;background:#7d7d7d"></div>
<div class="a" style="left:521px;top:828px;width:1px;height:14px;background:#7d7d7d"></div>
<div class="a" style="left:625px;top:828px;width:1px;height:14px;background:#7d7d7d"></div>
<div class="a" style="left:717px;top:828px;width:1px;height:14px;background:#7d7d7d"></div>
</body></html>
